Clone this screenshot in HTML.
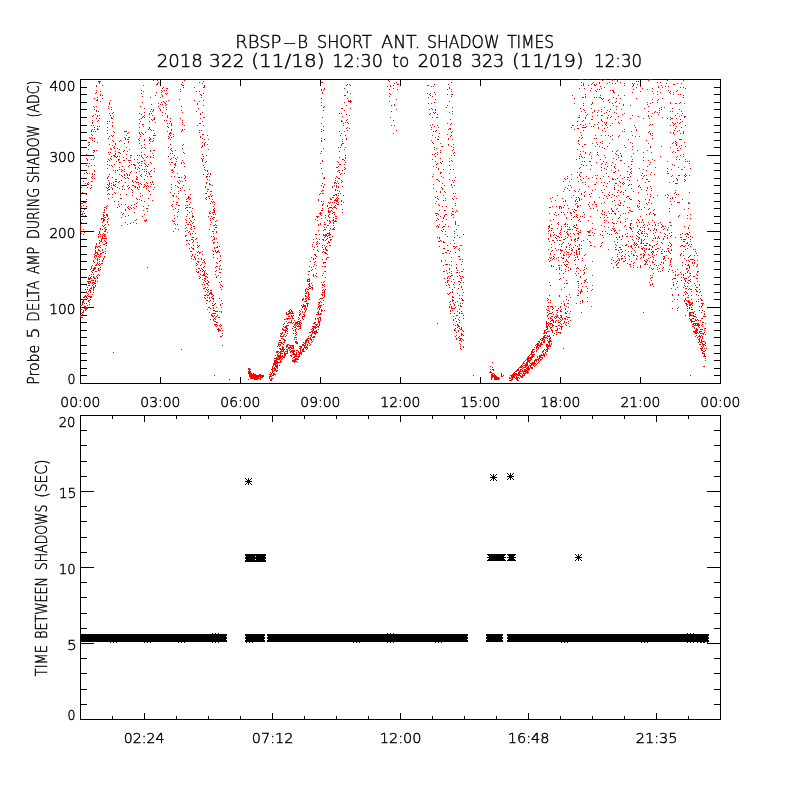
<!DOCTYPE html>
<html><head><meta charset="utf-8"><title>RBSP-B SHORT ANT. SHADOW TIMES</title>
<style>html,body{margin:0;padding:0;background:#fff;}svg{display:block;}
text{font-family:'DejaVu Sans', 'Liberation Sans', sans-serif;font-weight:200;fill:#000;stroke:#000;stroke-width:0.45px;}</style></head>
<body><svg width="800" height="800" viewBox="0 0 800 800">
<rect x="0" y="0" width="800" height="800" fill="#fff"/>
<g shape-rendering="crispEdges">
<rect x="80" y="79" width="641" height="1" fill="#000"/>
<rect x="80" y="383" width="641" height="1" fill="#000"/>
<rect x="80" y="79" width="1" height="305" fill="#000"/>
<rect x="720" y="79" width="1" height="305" fill="#000"/>
<rect x="81" y="375" width="6" height="1" fill="#000"/>
<rect x="714" y="375" width="6" height="1" fill="#000"/>
<rect x="81" y="368" width="6" height="1" fill="#000"/>
<rect x="714" y="368" width="6" height="1" fill="#000"/>
<rect x="81" y="360" width="6" height="1" fill="#000"/>
<rect x="714" y="360" width="6" height="1" fill="#000"/>
<rect x="81" y="353" width="6" height="1" fill="#000"/>
<rect x="714" y="353" width="6" height="1" fill="#000"/>
<rect x="81" y="345" width="6" height="1" fill="#000"/>
<rect x="714" y="345" width="6" height="1" fill="#000"/>
<rect x="81" y="337" width="6" height="1" fill="#000"/>
<rect x="714" y="337" width="6" height="1" fill="#000"/>
<rect x="81" y="330" width="6" height="1" fill="#000"/>
<rect x="714" y="330" width="6" height="1" fill="#000"/>
<rect x="81" y="322" width="6" height="1" fill="#000"/>
<rect x="714" y="322" width="6" height="1" fill="#000"/>
<rect x="81" y="315" width="6" height="1" fill="#000"/>
<rect x="714" y="315" width="6" height="1" fill="#000"/>
<rect x="81" y="307" width="13" height="1" fill="#000"/>
<rect x="707" y="307" width="13" height="1" fill="#000"/>
<rect x="81" y="299" width="6" height="1" fill="#000"/>
<rect x="714" y="299" width="6" height="1" fill="#000"/>
<rect x="81" y="292" width="6" height="1" fill="#000"/>
<rect x="714" y="292" width="6" height="1" fill="#000"/>
<rect x="81" y="284" width="6" height="1" fill="#000"/>
<rect x="714" y="284" width="6" height="1" fill="#000"/>
<rect x="81" y="277" width="6" height="1" fill="#000"/>
<rect x="714" y="277" width="6" height="1" fill="#000"/>
<rect x="81" y="269" width="6" height="1" fill="#000"/>
<rect x="714" y="269" width="6" height="1" fill="#000"/>
<rect x="81" y="261" width="6" height="1" fill="#000"/>
<rect x="714" y="261" width="6" height="1" fill="#000"/>
<rect x="81" y="254" width="6" height="1" fill="#000"/>
<rect x="714" y="254" width="6" height="1" fill="#000"/>
<rect x="81" y="246" width="6" height="1" fill="#000"/>
<rect x="714" y="246" width="6" height="1" fill="#000"/>
<rect x="81" y="239" width="6" height="1" fill="#000"/>
<rect x="714" y="239" width="6" height="1" fill="#000"/>
<rect x="81" y="231" width="13" height="1" fill="#000"/>
<rect x="707" y="231" width="13" height="1" fill="#000"/>
<rect x="81" y="223" width="6" height="1" fill="#000"/>
<rect x="714" y="223" width="6" height="1" fill="#000"/>
<rect x="81" y="216" width="6" height="1" fill="#000"/>
<rect x="714" y="216" width="6" height="1" fill="#000"/>
<rect x="81" y="208" width="6" height="1" fill="#000"/>
<rect x="714" y="208" width="6" height="1" fill="#000"/>
<rect x="81" y="201" width="6" height="1" fill="#000"/>
<rect x="714" y="201" width="6" height="1" fill="#000"/>
<rect x="81" y="193" width="6" height="1" fill="#000"/>
<rect x="714" y="193" width="6" height="1" fill="#000"/>
<rect x="81" y="185" width="6" height="1" fill="#000"/>
<rect x="714" y="185" width="6" height="1" fill="#000"/>
<rect x="81" y="178" width="6" height="1" fill="#000"/>
<rect x="714" y="178" width="6" height="1" fill="#000"/>
<rect x="81" y="170" width="6" height="1" fill="#000"/>
<rect x="714" y="170" width="6" height="1" fill="#000"/>
<rect x="81" y="163" width="6" height="1" fill="#000"/>
<rect x="714" y="163" width="6" height="1" fill="#000"/>
<rect x="81" y="155" width="13" height="1" fill="#000"/>
<rect x="707" y="155" width="13" height="1" fill="#000"/>
<rect x="81" y="147" width="6" height="1" fill="#000"/>
<rect x="714" y="147" width="6" height="1" fill="#000"/>
<rect x="81" y="140" width="6" height="1" fill="#000"/>
<rect x="714" y="140" width="6" height="1" fill="#000"/>
<rect x="81" y="132" width="6" height="1" fill="#000"/>
<rect x="714" y="132" width="6" height="1" fill="#000"/>
<rect x="81" y="125" width="6" height="1" fill="#000"/>
<rect x="714" y="125" width="6" height="1" fill="#000"/>
<rect x="81" y="117" width="6" height="1" fill="#000"/>
<rect x="714" y="117" width="6" height="1" fill="#000"/>
<rect x="81" y="109" width="6" height="1" fill="#000"/>
<rect x="714" y="109" width="6" height="1" fill="#000"/>
<rect x="81" y="102" width="6" height="1" fill="#000"/>
<rect x="714" y="102" width="6" height="1" fill="#000"/>
<rect x="81" y="94" width="6" height="1" fill="#000"/>
<rect x="714" y="94" width="6" height="1" fill="#000"/>
<rect x="81" y="87" width="6" height="1" fill="#000"/>
<rect x="714" y="87" width="6" height="1" fill="#000"/>
<rect x="160" y="377" width="1" height="6" fill="#000"/>
<rect x="160" y="80" width="1" height="6" fill="#000"/>
<rect x="240" y="377" width="1" height="6" fill="#000"/>
<rect x="240" y="80" width="1" height="6" fill="#000"/>
<rect x="320" y="377" width="1" height="6" fill="#000"/>
<rect x="320" y="80" width="1" height="6" fill="#000"/>
<rect x="400" y="377" width="1" height="6" fill="#000"/>
<rect x="400" y="80" width="1" height="6" fill="#000"/>
<rect x="480" y="377" width="1" height="6" fill="#000"/>
<rect x="480" y="80" width="1" height="6" fill="#000"/>
<rect x="560" y="377" width="1" height="6" fill="#000"/>
<rect x="560" y="80" width="1" height="6" fill="#000"/>
<rect x="640" y="377" width="1" height="6" fill="#000"/>
<rect x="640" y="80" width="1" height="6" fill="#000"/>
<rect x="80" y="415" width="641" height="1" fill="#000"/>
<rect x="80" y="719" width="641" height="1" fill="#000"/>
<rect x="80" y="415" width="1" height="305" fill="#000"/>
<rect x="720" y="415" width="1" height="305" fill="#000"/>
<rect x="81" y="704" width="6" height="1" fill="#000"/>
<rect x="714" y="704" width="6" height="1" fill="#000"/>
<rect x="81" y="689" width="6" height="1" fill="#000"/>
<rect x="714" y="689" width="6" height="1" fill="#000"/>
<rect x="81" y="673" width="6" height="1" fill="#000"/>
<rect x="714" y="673" width="6" height="1" fill="#000"/>
<rect x="81" y="658" width="6" height="1" fill="#000"/>
<rect x="714" y="658" width="6" height="1" fill="#000"/>
<rect x="81" y="643" width="13" height="1" fill="#000"/>
<rect x="707" y="643" width="13" height="1" fill="#000"/>
<rect x="81" y="628" width="6" height="1" fill="#000"/>
<rect x="714" y="628" width="6" height="1" fill="#000"/>
<rect x="81" y="613" width="6" height="1" fill="#000"/>
<rect x="714" y="613" width="6" height="1" fill="#000"/>
<rect x="81" y="597" width="6" height="1" fill="#000"/>
<rect x="714" y="597" width="6" height="1" fill="#000"/>
<rect x="81" y="582" width="6" height="1" fill="#000"/>
<rect x="714" y="582" width="6" height="1" fill="#000"/>
<rect x="81" y="567" width="13" height="1" fill="#000"/>
<rect x="707" y="567" width="13" height="1" fill="#000"/>
<rect x="81" y="552" width="6" height="1" fill="#000"/>
<rect x="714" y="552" width="6" height="1" fill="#000"/>
<rect x="81" y="537" width="6" height="1" fill="#000"/>
<rect x="714" y="537" width="6" height="1" fill="#000"/>
<rect x="81" y="521" width="6" height="1" fill="#000"/>
<rect x="714" y="521" width="6" height="1" fill="#000"/>
<rect x="81" y="506" width="6" height="1" fill="#000"/>
<rect x="714" y="506" width="6" height="1" fill="#000"/>
<rect x="81" y="491" width="13" height="1" fill="#000"/>
<rect x="707" y="491" width="13" height="1" fill="#000"/>
<rect x="81" y="476" width="6" height="1" fill="#000"/>
<rect x="714" y="476" width="6" height="1" fill="#000"/>
<rect x="81" y="461" width="6" height="1" fill="#000"/>
<rect x="714" y="461" width="6" height="1" fill="#000"/>
<rect x="81" y="445" width="6" height="1" fill="#000"/>
<rect x="714" y="445" width="6" height="1" fill="#000"/>
<rect x="81" y="430" width="6" height="1" fill="#000"/>
<rect x="714" y="430" width="6" height="1" fill="#000"/>
<rect x="112" y="716" width="1" height="3" fill="#000"/>
<rect x="112" y="416" width="1" height="3" fill="#000"/>
<rect x="144" y="713" width="1" height="6" fill="#000"/>
<rect x="144" y="416" width="1" height="6" fill="#000"/>
<rect x="176" y="716" width="1" height="3" fill="#000"/>
<rect x="176" y="416" width="1" height="3" fill="#000"/>
<rect x="208" y="716" width="1" height="3" fill="#000"/>
<rect x="208" y="416" width="1" height="3" fill="#000"/>
<rect x="240" y="716" width="1" height="3" fill="#000"/>
<rect x="240" y="416" width="1" height="3" fill="#000"/>
<rect x="272" y="713" width="1" height="6" fill="#000"/>
<rect x="272" y="416" width="1" height="6" fill="#000"/>
<rect x="304" y="716" width="1" height="3" fill="#000"/>
<rect x="304" y="416" width="1" height="3" fill="#000"/>
<rect x="336" y="716" width="1" height="3" fill="#000"/>
<rect x="336" y="416" width="1" height="3" fill="#000"/>
<rect x="368" y="716" width="1" height="3" fill="#000"/>
<rect x="368" y="416" width="1" height="3" fill="#000"/>
<rect x="400" y="713" width="1" height="6" fill="#000"/>
<rect x="400" y="416" width="1" height="6" fill="#000"/>
<rect x="432" y="716" width="1" height="3" fill="#000"/>
<rect x="432" y="416" width="1" height="3" fill="#000"/>
<rect x="464" y="716" width="1" height="3" fill="#000"/>
<rect x="464" y="416" width="1" height="3" fill="#000"/>
<rect x="496" y="716" width="1" height="3" fill="#000"/>
<rect x="496" y="416" width="1" height="3" fill="#000"/>
<rect x="528" y="713" width="1" height="6" fill="#000"/>
<rect x="528" y="416" width="1" height="6" fill="#000"/>
<rect x="560" y="716" width="1" height="3" fill="#000"/>
<rect x="560" y="416" width="1" height="3" fill="#000"/>
<rect x="592" y="716" width="1" height="3" fill="#000"/>
<rect x="592" y="416" width="1" height="3" fill="#000"/>
<rect x="624" y="716" width="1" height="3" fill="#000"/>
<rect x="624" y="416" width="1" height="3" fill="#000"/>
<rect x="656" y="713" width="1" height="6" fill="#000"/>
<rect x="656" y="416" width="1" height="6" fill="#000"/>
<rect x="688" y="716" width="1" height="3" fill="#000"/>
<rect x="688" y="416" width="1" height="3" fill="#000"/>
<path fill="#ff0000" d="M580 79h1v1h-1zM582 79h1v1h-1zM587 79h1v1h-1zM600 79h1v1h-1zM605 79h1v1h-1zM611 79h1v1h-1zM617 79h1v1h-1zM649 79h1v1h-1zM651 79h1v1h-1zM670 79h1v1h-1zM153 80h1v1h-1zM157 80h1v1h-1zM184 80h1v1h-1zM388 80h1v1h-1zM602 80h1v1h-1zM612 80h1v1h-1zM617 80h1v1h-1zM648 80h1v1h-1zM667 80h1v1h-1zM683 80h1v1h-1zM98 81h3v1h-3zM203 81h1v1h-1zM389 81h1v1h-1zM617 81h1v1h-1zM636 81h1v1h-1zM638 81h1v1h-1zM99 82h1v1h-1zM158 82h1v1h-1zM182 82h1v1h-1zM199 82h1v1h-1zM321 82h2v1h-2zM396 82h1v1h-1zM451 82h1v1h-1zM581 82h1v1h-1zM593 82h1v1h-1zM599 82h1v1h-1zM609 82h1v1h-1zM620 82h1v1h-1zM657 82h1v1h-1zM660 82h1v1h-1zM99 83h1v1h-1zM157 83h1v1h-1zM202 83h1v1h-1zM394 83h1v1h-1zM583 83h1v1h-1zM592 83h1v1h-1zM599 83h1v1h-1zM607 83h1v1h-1zM612 83h1v1h-1zM615 83h1v1h-1zM624 83h1v1h-1zM632 83h1v1h-1zM634 83h1v1h-1zM666 83h1v1h-1zM677 83h1v1h-1zM681 83h1v1h-1zM156 84h2v1h-2zM181 84h1v1h-1zM347 84h1v1h-1zM349 84h1v1h-1zM397 84h2v1h-2zM434 84h1v1h-1zM448 84h1v1h-1zM583 84h1v1h-1zM591 84h1v1h-1zM594 84h1v1h-1zM596 84h1v1h-1zM633 84h1v1h-1zM637 84h1v1h-1zM673 84h2v1h-2zM96 85h1v1h-1zM102 85h1v1h-1zM143 85h1v1h-1zM182 85h2v1h-2zM204 85h1v1h-1zM346 85h1v1h-1zM350 85h1v1h-1zM390 85h1v1h-1zM393 85h1v1h-1zM427 85h2v1h-2zM581 85h1v1h-1zM583 85h1v1h-1zM588 85h1v1h-1zM594 85h2v1h-2zM624 85h1v1h-1zM633 85h1v1h-1zM661 85h1v1h-1zM96 86h1v1h-1zM204 86h1v1h-1zM387 86h1v1h-1zM390 86h1v1h-1zM431 86h1v1h-1zM433 86h1v1h-1zM600 86h1v1h-1zM632 86h1v1h-1zM640 86h1v1h-1zM658 86h1v1h-1zM665 86h1v1h-1zM668 86h1v1h-1zM163 87h1v1h-1zM183 87h1v1h-1zM194 87h1v1h-1zM203 87h2v1h-2zM449 87h1v1h-1zM604 87h1v1h-1zM636 87h1v1h-1zM658 87h1v1h-1zM662 87h1v1h-1zM680 87h1v1h-1zM683 87h1v1h-1zM162 88h1v1h-1zM166 88h2v1h-2zM324 88h1v1h-1zM344 88h1v1h-1zM393 88h1v1h-1zM449 88h1v1h-1zM579 88h1v1h-1zM584 88h1v1h-1zM591 88h1v1h-1zM601 88h1v1h-1zM642 88h1v1h-1zM652 88h1v1h-1zM685 88h1v1h-1zM180 89h1v1h-1zM321 89h1v1h-1zM324 89h1v1h-1zM389 89h1v1h-1zM397 89h1v1h-1zM447 89h1v1h-1zM451 89h1v1h-1zM597 89h1v1h-1zM599 89h1v1h-1zM633 89h1v1h-1zM647 89h1v1h-1zM96 90h1v1h-1zM141 90h1v1h-1zM161 90h1v1h-1zM164 90h1v1h-1zM166 90h1v1h-1zM321 90h1v1h-1zM323 90h1v1h-1zM590 90h1v1h-1zM595 90h1v1h-1zM610 90h1v1h-1zM612 90h2v1h-2zM668 90h1v1h-1zM677 90h1v1h-1zM100 91h1v1h-1zM143 91h1v1h-1zM162 91h1v1h-1zM180 91h1v1h-1zM196 91h1v1h-1zM199 91h1v1h-1zM347 91h1v1h-1zM451 91h1v1h-1zM596 91h1v1h-1zM613 91h1v1h-1zM640 91h1v1h-1zM652 91h1v1h-1zM657 91h1v1h-1zM670 91h1v1h-1zM676 91h1v1h-1zM96 92h1v1h-1zM156 92h1v1h-1zM161 92h1v1h-1zM322 92h1v1h-1zM347 92h1v1h-1zM434 92h1v1h-1zM613 92h2v1h-2zM632 92h1v1h-1zM660 92h1v1h-1zM669 92h1v1h-1zM673 92h1v1h-1zM95 93h1v1h-1zM141 93h1v1h-1zM165 93h1v1h-1zM167 93h1v1h-1zM203 93h1v1h-1zM322 93h1v1h-1zM350 93h1v1h-1zM389 93h1v1h-1zM427 93h1v1h-1zM430 93h1v1h-1zM653 93h1v1h-1zM670 93h1v1h-1zM100 94h1v1h-1zM161 94h1v1h-1zM166 94h1v1h-1zM200 94h1v1h-1zM390 94h1v1h-1zM429 94h1v1h-1zM435 94h1v1h-1zM447 94h1v1h-1zM451 94h2v1h-2zM585 94h1v1h-1zM657 94h1v1h-1zM673 94h1v1h-1zM678 94h1v1h-1zM680 94h1v1h-1zM100 95h1v1h-1zM102 95h1v1h-1zM155 95h1v1h-1zM162 95h1v1h-1zM201 95h1v1h-1zM344 95h2v1h-2zM430 95h1v1h-1zM572 95h1v1h-1zM600 95h1v1h-1zM618 95h1v1h-1zM624 95h1v1h-1zM683 95h1v1h-1zM142 96h1v1h-1zM162 96h1v1h-1zM389 96h1v1h-1zM432 96h1v1h-1zM451 96h1v1h-1zM585 96h1v1h-1zM97 97h1v1h-1zM150 97h1v1h-1zM160 97h1v1h-1zM201 97h1v1h-1zM428 97h1v1h-1zM582 97h2v1h-2zM585 97h1v1h-1zM594 97h1v1h-1zM596 97h1v1h-1zM599 97h2v1h-2zM613 97h1v1h-1zM683 97h1v1h-1zM94 98h1v1h-1zM102 98h1v1h-1zM321 98h1v1h-1zM347 98h1v1h-1zM574 98h1v1h-1zM601 98h1v1h-1zM603 98h1v1h-1zM616 98h1v1h-1zM620 98h1v1h-1zM636 98h1v1h-1zM662 98h1v1h-1zM97 99h1v1h-1zM179 99h1v1h-1zM396 99h1v1h-1zM435 99h1v1h-1zM602 99h1v1h-1zM609 99h1v1h-1zM652 99h1v1h-1zM658 99h1v1h-1zM96 100h2v1h-2zM110 100h1v1h-1zM168 100h1v1h-1zM194 100h1v1h-1zM203 100h1v1h-1zM348 100h1v1h-1zM350 100h1v1h-1zM608 100h1v1h-1zM657 100h1v1h-1zM100 101h1v1h-1zM163 101h1v1h-1zM166 101h1v1h-1zM199 101h1v1h-1zM348 101h4v1h-4zM389 101h1v1h-1zM449 101h1v1h-1zM603 101h1v1h-1zM616 101h1v1h-1zM109 102h1v1h-1zM142 102h1v1h-1zM161 102h1v1h-1zM164 102h1v1h-1zM321 102h1v1h-1zM344 102h1v1h-1zM350 102h1v1h-1zM434 102h1v1h-1zM592 102h1v1h-1zM609 102h1v1h-1zM615 102h1v1h-1zM647 102h1v1h-1zM652 102h1v1h-1zM657 102h1v1h-1zM670 102h1v1h-1zM680 102h1v1h-1zM109 103h1v1h-1zM158 103h1v1h-1zM165 103h1v1h-1zM197 103h1v1h-1zM428 103h1v1h-1zM431 103h1v1h-1zM574 103h1v1h-1zM583 103h1v1h-1zM592 103h1v1h-1zM612 103h1v1h-1zM619 103h1v1h-1zM650 103h1v1h-1zM670 103h1v1h-1zM675 103h2v1h-2zM679 103h1v1h-1zM684 103h1v1h-1zM109 104h1v1h-1zM151 104h1v1h-1zM160 104h1v1h-1zM162 104h1v1h-1zM166 104h1v1h-1zM197 104h1v1h-1zM394 104h1v1h-1zM591 104h1v1h-1zM623 104h1v1h-1zM647 104h1v1h-1zM165 105h1v1h-1zM203 105h1v1h-1zM321 105h1v1h-1zM346 105h1v1h-1zM391 105h1v1h-1zM394 105h1v1h-1zM447 105h1v1h-1zM583 105h1v1h-1zM613 105h1v1h-1zM623 105h1v1h-1zM630 105h1v1h-1zM93 106h1v1h-1zM96 106h1v1h-1zM108 106h1v1h-1zM140 106h1v1h-1zM158 106h1v1h-1zM181 106h1v1h-1zM324 106h1v1h-1zM616 106h1v1h-1zM648 106h1v1h-1zM94 107h1v1h-1zM111 107h1v1h-1zM163 107h1v1h-1zM166 107h1v1h-1zM323 107h1v1h-1zM446 107h1v1h-1zM452 107h1v1h-1zM604 107h1v1h-1zM661 107h1v1h-1zM664 107h1v1h-1zM108 108h1v1h-1zM144 108h1v1h-1zM159 108h1v1h-1zM198 108h1v1h-1zM341 108h2v1h-2zM350 108h1v1h-1zM431 108h1v1h-1zM580 108h1v1h-1zM591 108h1v1h-1zM644 108h1v1h-1zM659 108h1v1h-1zM672 108h1v1h-1zM94 109h1v1h-1zM111 109h1v1h-1zM151 109h1v1h-1zM153 109h1v1h-1zM160 109h1v1h-1zM166 109h1v1h-1zM396 109h1v1h-1zM429 109h1v1h-1zM432 109h1v1h-1zM435 109h1v1h-1zM583 109h1v1h-1zM601 109h1v1h-1zM610 109h1v1h-1zM616 109h1v1h-1zM621 109h1v1h-1zM661 109h1v1h-1zM679 109h1v1h-1zM96 110h1v1h-1zM153 110h1v1h-1zM160 110h1v1h-1zM181 110h1v1h-1zM323 110h1v1h-1zM344 110h1v1h-1zM435 110h1v1h-1zM584 110h1v1h-1zM594 110h1v1h-1zM598 110h1v1h-1zM607 110h1v1h-1zM659 110h1v1h-1zM96 111h1v1h-1zM98 111h1v1h-1zM150 111h1v1h-1zM152 111h1v1h-1zM196 111h1v1h-1zM391 111h1v1h-1zM452 111h1v1h-1zM581 111h1v1h-1zM594 111h1v1h-1zM601 111h1v1h-1zM609 111h1v1h-1zM648 111h1v1h-1zM655 111h1v1h-1zM670 111h1v1h-1zM672 111h1v1h-1zM681 111h1v1h-1zM113 112h1v1h-1zM144 112h1v1h-1zM162 112h1v1h-1zM182 112h1v1h-1zM202 112h1v1h-1zM433 112h1v1h-1zM435 112h1v1h-1zM449 112h1v1h-1zM585 112h1v1h-1zM592 112h1v1h-1zM597 112h1v1h-1zM606 112h1v1h-1zM614 112h1v1h-1zM654 112h1v1h-1zM657 112h1v1h-1zM659 112h1v1h-1zM109 113h1v1h-1zM112 113h1v1h-1zM139 113h1v1h-1zM149 113h1v1h-1zM151 113h1v1h-1zM165 113h1v1h-1zM200 113h1v1h-1zM339 113h1v1h-1zM341 113h1v1h-1zM430 113h1v1h-1zM434 113h1v1h-1zM452 113h1v1h-1zM604 113h1v1h-1zM616 113h1v1h-1zM624 113h1v1h-1zM652 113h1v1h-1zM677 113h1v1h-1zM682 113h1v1h-1zM95 114h1v1h-1zM141 114h1v1h-1zM149 114h1v1h-1zM200 114h1v1h-1zM346 114h1v1h-1zM429 114h1v1h-1zM437 114h1v1h-1zM587 114h1v1h-1zM622 114h1v1h-1zM658 114h1v1h-1zM93 115h1v1h-1zM97 115h1v1h-1zM99 115h1v1h-1zM110 115h1v1h-1zM144 115h1v1h-1zM152 115h1v1h-1zM162 115h1v1h-1zM167 115h1v1h-1zM349 115h1v1h-1zM579 115h1v1h-1zM586 115h1v1h-1zM597 115h1v1h-1zM601 115h2v1h-2zM608 115h1v1h-1zM632 115h1v1h-1zM648 115h1v1h-1zM675 115h1v1h-1zM681 115h1v1h-1zM92 116h1v1h-1zM97 116h1v1h-1zM113 116h1v1h-1zM143 116h1v1h-1zM167 116h1v1h-1zM342 116h1v1h-1zM592 116h1v1h-1zM611 116h1v1h-1zM618 116h1v1h-1zM638 116h1v1h-1zM648 116h1v1h-1zM651 116h1v1h-1zM679 116h1v1h-1zM684 116h2v1h-2zM111 117h1v1h-1zM142 117h1v1h-1zM144 117h1v1h-1zM149 117h1v1h-1zM154 117h1v1h-1zM167 117h1v1h-1zM203 117h2v1h-2zM322 117h1v1h-1zM390 117h1v1h-1zM432 117h1v1h-1zM436 117h2v1h-2zM578 117h2v1h-2zM585 117h1v1h-1zM607 117h1v1h-1zM610 117h1v1h-1zM662 117h1v1h-1zM670 117h1v1h-1zM684 117h1v1h-1zM96 118h1v1h-1zM99 118h1v1h-1zM111 118h2v1h-2zM141 118h1v1h-1zM154 118h1v1h-1zM170 118h1v1h-1zM180 118h1v1h-1zM200 118h1v1h-1zM585 118h1v1h-1zM607 118h1v1h-1zM630 118h1v1h-1zM643 118h1v1h-1zM649 118h1v1h-1zM667 118h1v1h-1zM671 118h2v1h-2zM676 118h1v1h-1zM139 119h1v1h-1zM151 119h1v1h-1zM153 119h2v1h-2zM347 119h1v1h-1zM450 119h1v1h-1zM591 119h2v1h-2zM601 119h1v1h-1zM615 119h1v1h-1zM670 119h1v1h-1zM680 119h1v1h-1zM92 120h1v1h-1zM98 120h1v1h-1zM152 120h1v1h-1zM164 120h1v1h-1zM166 120h1v1h-1zM182 120h1v1h-1zM341 120h1v1h-1zM346 120h1v1h-1zM393 120h1v1h-1zM583 120h1v1h-1zM601 120h1v1h-1zM621 120h1v1h-1zM97 121h1v1h-1zM107 121h1v1h-1zM109 121h1v1h-1zM140 121h1v1h-1zM149 121h1v1h-1zM170 121h1v1h-1zM202 121h1v1h-1zM341 121h2v1h-2zM577 121h1v1h-1zM582 121h1v1h-1zM602 121h1v1h-1zM682 121h1v1h-1zM92 122h1v1h-1zM112 122h1v1h-1zM155 122h1v1h-1zM182 122h1v1h-1zM345 122h1v1h-1zM347 122h1v1h-1zM598 122h1v1h-1zM604 122h1v1h-1zM606 122h1v1h-1zM618 122h1v1h-1zM672 122h1v1h-1zM677 122h1v1h-1zM680 122h1v1h-1zM92 123h1v1h-1zM107 123h1v1h-1zM139 123h1v1h-1zM167 123h1v1h-1zM169 123h1v1h-1zM171 123h1v1h-1zM199 123h2v1h-2zM321 123h1v1h-1zM343 123h1v1h-1zM348 123h1v1h-1zM447 123h1v1h-1zM451 123h1v1h-1zM589 123h1v1h-1zM606 123h1v1h-1zM612 123h1v1h-1zM619 123h1v1h-1zM673 123h1v1h-1zM675 123h1v1h-1zM679 123h1v1h-1zM142 124h2v1h-2zM171 124h1v1h-1zM182 124h1v1h-1zM432 124h1v1h-1zM450 124h1v1h-1zM580 124h1v1h-1zM585 124h1v1h-1zM594 124h1v1h-1zM597 124h1v1h-1zM605 124h1v1h-1zM650 124h1v1h-1zM652 124h1v1h-1zM674 124h1v1h-1zM91 125h1v1h-1zM93 125h1v1h-1zM112 125h1v1h-1zM171 125h1v1h-1zM184 125h1v1h-1zM197 125h1v1h-1zM203 125h1v1h-1zM343 125h1v1h-1zM391 125h1v1h-1zM394 125h1v1h-1zM430 125h1v1h-1zM437 125h1v1h-1zM572 125h2v1h-2zM577 125h1v1h-1zM583 125h1v1h-1zM602 125h1v1h-1zM606 125h1v1h-1zM610 125h1v1h-1zM634 125h1v1h-1zM649 125h1v1h-1zM670 125h1v1h-1zM673 125h1v1h-1zM685 125h1v1h-1zM97 126h1v1h-1zM99 126h1v1h-1zM112 126h1v1h-1zM143 126h1v1h-1zM167 126h1v1h-1zM323 126h1v1h-1zM434 126h1v1h-1zM586 126h1v1h-1zM591 126h1v1h-1zM593 126h1v1h-1zM676 126h1v1h-1zM94 127h1v1h-1zM107 127h1v1h-1zM139 127h1v1h-1zM149 127h1v1h-1zM168 127h1v1h-1zM347 127h1v1h-1zM431 127h1v1h-1zM438 127h1v1h-1zM571 127h1v1h-1zM582 127h4v1h-4zM598 127h1v1h-1zM607 127h1v1h-1zM635 127h1v1h-1zM681 127h1v1h-1zM97 128h1v1h-1zM149 128h1v1h-1zM346 128h1v1h-1zM349 128h1v1h-1zM449 128h2v1h-2zM577 128h2v1h-2zM598 128h1v1h-1zM604 128h1v1h-1zM675 128h1v1h-1zM92 129h1v1h-1zM94 129h1v1h-1zM97 129h2v1h-2zM148 129h1v1h-1zM150 129h1v1h-1zM171 129h1v1h-1zM182 129h1v1h-1zM184 129h1v1h-1zM321 129h1v1h-1zM431 129h1v1h-1zM448 129h1v1h-1zM450 129h1v1h-1zM574 129h1v1h-1zM624 129h1v1h-1zM636 129h1v1h-1zM91 130h1v1h-1zM107 130h1v1h-1zM151 130h1v1h-1zM153 130h1v1h-1zM171 130h1v1h-1zM182 130h1v1h-1zM199 130h1v1h-1zM201 130h1v1h-1zM323 130h1v1h-1zM347 130h1v1h-1zM396 130h1v1h-1zM436 130h1v1h-1zM583 130h1v1h-1zM602 130h1v1h-1zM636 130h1v1h-1zM674 130h1v1h-1zM679 130h1v1h-1zM91 131h1v1h-1zM93 131h1v1h-1zM95 131h1v1h-1zM113 131h1v1h-1zM124 131h3v1h-3zM167 131h1v1h-1zM181 131h1v1h-1zM321 131h1v1h-1zM339 131h1v1h-1zM344 131h1v1h-1zM433 131h1v1h-1zM435 131h1v1h-1zM452 131h1v1h-1zM605 131h1v1h-1zM622 131h1v1h-1zM624 131h1v1h-1zM631 131h1v1h-1zM649 131h1v1h-1zM677 131h1v1h-1zM683 131h1v1h-1zM114 132h1v1h-1zM128 132h1v1h-1zM139 132h1v1h-1zM141 132h1v1h-1zM145 132h1v1h-1zM170 132h1v1h-1zM199 132h1v1h-1zM451 132h1v1h-1zM580 132h1v1h-1zM648 132h1v1h-1zM670 132h1v1h-1zM673 132h1v1h-1zM683 132h1v1h-1zM107 133h1v1h-1zM127 133h1v1h-1zM139 133h1v1h-1zM142 133h1v1h-1zM154 133h1v1h-1zM169 133h3v1h-3zM341 133h1v1h-1zM393 133h1v1h-1zM439 133h1v1h-1zM650 133h1v1h-1zM652 133h1v1h-1zM673 133h1v1h-1zM680 133h1v1h-1zM683 133h1v1h-1zM91 134h1v1h-1zM140 134h1v1h-1zM143 134h1v1h-1zM169 134h1v1h-1zM173 134h1v1h-1zM202 134h2v1h-2zM447 134h1v1h-1zM650 134h1v1h-1zM674 134h1v1h-1zM92 135h1v1h-1zM111 135h1v1h-1zM113 135h1v1h-1zM126 135h1v1h-1zM153 135h3v1h-3zM170 135h1v1h-1zM207 135h1v1h-1zM340 135h1v1h-1zM345 135h1v1h-1zM432 135h1v1h-1zM451 135h1v1h-1zM581 135h1v1h-1zM595 135h1v1h-1zM601 135h1v1h-1zM605 135h1v1h-1zM608 135h1v1h-1zM612 135h1v1h-1zM619 135h1v1h-1zM632 135h1v1h-1zM652 135h1v1h-1zM109 136h1v1h-1zM112 136h1v1h-1zM140 136h1v1h-1zM168 136h1v1h-1zM173 136h1v1h-1zM200 136h1v1h-1zM438 136h1v1h-1zM450 136h1v1h-1zM610 136h1v1h-1zM618 136h1v1h-1zM635 136h1v1h-1zM639 136h1v1h-1zM89 137h1v1h-1zM91 137h1v1h-1zM124 137h1v1h-1zM128 137h2v1h-2zM149 137h1v1h-1zM169 137h1v1h-1zM171 137h1v1h-1zM200 137h1v1h-1zM435 137h1v1h-1zM579 137h1v1h-1zM582 137h1v1h-1zM90 138h1v1h-1zM92 138h1v1h-1zM94 138h1v1h-1zM108 138h1v1h-1zM125 138h1v1h-1zM139 138h1v1h-1zM150 138h1v1h-1zM153 138h1v1h-1zM168 138h1v1h-1zM202 138h1v1h-1zM321 138h1v1h-1zM346 138h1v1h-1zM448 138h1v1h-1zM581 138h1v1h-1zM594 138h1v1h-1zM596 138h1v1h-1zM652 138h1v1h-1zM125 139h1v1h-1zM127 139h2v1h-2zM138 139h1v1h-1zM144 139h1v1h-1zM149 139h2v1h-2zM170 139h1v1h-1zM204 139h1v1h-1zM208 139h1v1h-1zM324 139h1v1h-1zM342 139h1v1h-1zM346 139h1v1h-1zM437 139h2v1h-2zM448 139h1v1h-1zM452 139h1v1h-1zM612 139h1v1h-1zM628 139h1v1h-1zM679 139h3v1h-3zM92 140h1v1h-1zM112 140h1v1h-1zM120 140h1v1h-1zM139 140h1v1h-1zM144 140h1v1h-1zM149 140h1v1h-1zM153 140h1v1h-1zM321 140h1v1h-1zM431 140h1v1h-1zM578 140h1v1h-1zM646 140h1v1h-1zM94 141h1v1h-1zM113 141h1v1h-1zM119 141h1v1h-1zM128 141h1v1h-1zM150 141h1v1h-1zM152 141h1v1h-1zM321 141h1v1h-1zM342 141h1v1h-1zM578 141h1v1h-1zM602 141h1v1h-1zM675 141h1v1h-1zM88 142h2v1h-2zM97 142h1v1h-1zM128 142h1v1h-1zM202 142h1v1h-1zM205 142h1v1h-1zM432 142h1v1h-1zM596 142h1v1h-1zM600 142h1v1h-1zM630 142h1v1h-1zM673 142h1v1h-1zM676 142h1v1h-1zM684 142h1v1h-1zM115 143h1v1h-1zM124 143h1v1h-1zM139 143h1v1h-1zM149 143h1v1h-1zM204 143h1v1h-1zM342 143h2v1h-2zM433 143h1v1h-1zM440 143h1v1h-1zM578 143h1v1h-1zM592 143h1v1h-1zM602 143h1v1h-1zM609 143h1v1h-1zM632 143h1v1h-1zM648 143h1v1h-1zM672 143h1v1h-1zM675 143h1v1h-1zM89 144h1v1h-1zM109 144h1v1h-1zM115 144h1v1h-1zM144 144h1v1h-1zM170 144h1v1h-1zM183 144h1v1h-1zM204 144h1v1h-1zM207 144h1v1h-1zM341 144h1v1h-1zM448 144h1v1h-1zM453 144h1v1h-1zM579 144h1v1h-1zM584 144h2v1h-2zM597 144h1v1h-1zM676 144h1v1h-1zM88 145h1v1h-1zM112 145h1v1h-1zM141 145h1v1h-1zM182 145h1v1h-1zM202 145h1v1h-1zM204 145h1v1h-1zM341 145h1v1h-1zM448 145h1v1h-1zM624 145h1v1h-1zM676 145h1v1h-1zM681 145h1v1h-1zM114 146h1v1h-1zM202 146h1v1h-1zM441 146h2v1h-2zM451 146h1v1h-1zM582 146h1v1h-1zM595 146h1v1h-1zM599 146h1v1h-1zM607 146h1v1h-1zM632 146h1v1h-1zM650 146h1v1h-1zM661 146h1v1h-1zM679 146h1v1h-1zM685 146h1v1h-1zM113 147h1v1h-1zM126 147h1v1h-1zM142 147h1v1h-1zM144 147h1v1h-1zM168 147h1v1h-1zM201 147h1v1h-1zM338 147h1v1h-1zM340 147h1v1h-1zM345 147h1v1h-1zM434 147h1v1h-1zM453 147h1v1h-1zM602 147h1v1h-1zM625 147h1v1h-1zM650 147h1v1h-1zM670 147h1v1h-1zM110 148h1v1h-1zM114 148h1v1h-1zM117 148h1v1h-1zM141 148h1v1h-1zM145 148h1v1h-1zM171 148h1v1h-1zM182 148h1v1h-1zM323 148h1v1h-1zM436 148h1v1h-1zM604 148h1v1h-1zM677 148h1v1h-1zM680 148h1v1h-1zM88 149h1v1h-1zM111 149h1v1h-1zM119 149h1v1h-1zM129 149h1v1h-1zM170 149h1v1h-1zM208 149h1v1h-1zM344 149h1v1h-1zM434 149h1v1h-1zM453 149h1v1h-1zM577 149h1v1h-1zM632 149h1v1h-1zM93 150h2v1h-2zM96 150h1v1h-1zM124 150h1v1h-1zM150 150h1v1h-1zM153 150h2v1h-2zM171 150h1v1h-1zM175 150h1v1h-1zM440 150h1v1h-1zM452 150h1v1h-1zM617 150h1v1h-1zM637 150h1v1h-1zM647 150h1v1h-1zM677 150h2v1h-2zM94 151h1v1h-1zM115 151h1v1h-1zM123 151h1v1h-1zM127 151h1v1h-1zM150 151h1v1h-1zM172 151h1v1h-1zM321 151h1v1h-1zM339 151h1v1h-1zM580 151h1v1h-1zM583 151h1v1h-1zM612 151h1v1h-1zM616 151h1v1h-1zM673 151h1v1h-1zM93 152h1v1h-1zM108 152h1v1h-1zM110 152h1v1h-1zM118 152h2v1h-2zM141 152h1v1h-1zM183 152h1v1h-1zM437 152h1v1h-1zM440 152h1v1h-1zM454 152h1v1h-1zM585 152h1v1h-1zM590 152h1v1h-1zM597 152h1v1h-1zM643 152h1v1h-1zM651 152h1v1h-1zM672 152h1v1h-1zM675 152h1v1h-1zM115 153h1v1h-1zM120 153h1v1h-1zM152 153h1v1h-1zM170 153h1v1h-1zM172 153h1v1h-1zM184 153h1v1h-1zM320 153h1v1h-1zM435 153h1v1h-1zM453 153h1v1h-1zM585 153h1v1h-1zM615 153h1v1h-1zM620 153h1v1h-1zM633 153h1v1h-1zM86 154h1v1h-1zM109 154h1v1h-1zM115 154h1v1h-1zM126 154h1v1h-1zM144 154h1v1h-1zM202 154h1v1h-1zM432 154h1v1h-1zM434 154h1v1h-1zM437 154h1v1h-1zM580 154h1v1h-1zM589 154h1v1h-1zM597 154h1v1h-1zM616 154h1v1h-1zM683 154h1v1h-1zM113 155h2v1h-2zM130 155h2v1h-2zM137 155h1v1h-1zM139 155h1v1h-1zM141 155h1v1h-1zM153 155h1v1h-1zM174 155h1v1h-1zM206 155h1v1h-1zM345 155h1v1h-1zM451 155h1v1h-1zM454 155h1v1h-1zM598 155h1v1h-1zM604 155h1v1h-1zM618 155h1v1h-1zM621 155h1v1h-1zM680 155h1v1h-1zM111 156h1v1h-1zM114 156h2v1h-2zM117 156h1v1h-1zM119 156h1v1h-1zM141 156h1v1h-1zM147 156h1v1h-1zM150 156h1v1h-1zM168 156h1v1h-1zM203 156h1v1h-1zM435 156h1v1h-1zM579 156h1v1h-1zM581 156h1v1h-1zM591 156h1v1h-1zM621 156h1v1h-1zM631 156h1v1h-1zM660 156h1v1h-1zM677 156h1v1h-1zM683 156h1v1h-1zM94 157h1v1h-1zM116 157h1v1h-1zM123 157h1v1h-1zM130 157h1v1h-1zM142 157h1v1h-1zM146 157h1v1h-1zM150 157h1v1h-1zM153 157h1v1h-1zM173 157h1v1h-1zM177 157h1v1h-1zM339 157h1v1h-1zM345 157h1v1h-1zM582 157h1v1h-1zM584 157h1v1h-1zM605 157h1v1h-1zM618 157h1v1h-1zM643 157h1v1h-1zM676 157h1v1h-1zM86 158h1v1h-1zM110 158h1v1h-1zM126 158h1v1h-1zM143 158h1v1h-1zM171 158h1v1h-1zM175 158h1v1h-1zM201 158h1v1h-1zM203 158h1v1h-1zM345 158h1v1h-1zM440 158h1v1h-1zM449 158h1v1h-1zM579 158h1v1h-1zM591 158h1v1h-1zM613 158h1v1h-1zM87 159h1v1h-1zM91 159h1v1h-1zM93 159h1v1h-1zM108 159h1v1h-1zM111 159h1v1h-1zM118 159h2v1h-2zM134 159h1v1h-1zM137 159h1v1h-1zM170 159h1v1h-1zM176 159h1v1h-1zM202 159h1v1h-1zM342 159h2v1h-2zM432 159h1v1h-1zM576 159h1v1h-1zM600 159h1v1h-1zM616 159h1v1h-1zM632 159h1v1h-1zM652 159h1v1h-1zM676 159h1v1h-1zM679 159h1v1h-1zM685 159h1v1h-1zM87 160h1v1h-1zM109 160h1v1h-1zM118 160h1v1h-1zM123 160h2v1h-2zM128 160h3v1h-3zM144 160h1v1h-1zM182 160h1v1h-1zM202 160h1v1h-1zM322 160h1v1h-1zM344 160h1v1h-1zM451 160h1v1h-1zM620 160h2v1h-2zM643 160h1v1h-1zM648 160h1v1h-1zM654 160h1v1h-1zM107 161h1v1h-1zM116 161h1v1h-1zM141 161h2v1h-2zM176 161h1v1h-1zM202 161h1v1h-1zM206 161h1v1h-1zM322 161h1v1h-1zM337 161h1v1h-1zM435 161h1v1h-1zM442 161h1v1h-1zM449 161h1v1h-1zM452 161h1v1h-1zM582 161h1v1h-1zM584 161h1v1h-1zM589 161h2v1h-2zM603 161h1v1h-1zM631 161h2v1h-2zM667 161h1v1h-1zM685 161h1v1h-1zM687 161h1v1h-1zM689 161h1v1h-1zM119 162h2v1h-2zM129 162h1v1h-1zM137 162h1v1h-1zM139 162h1v1h-1zM150 162h1v1h-1zM169 162h1v1h-1zM171 162h2v1h-2zM181 162h1v1h-1zM183 162h1v1h-1zM205 162h1v1h-1zM338 162h1v1h-1zM345 162h1v1h-1zM440 162h1v1h-1zM596 162h1v1h-1zM606 162h1v1h-1zM612 162h1v1h-1zM650 162h1v1h-1zM86 163h2v1h-2zM89 163h1v1h-1zM138 163h1v1h-1zM141 163h1v1h-1zM144 163h1v1h-1zM151 163h1v1h-1zM175 163h1v1h-1zM181 163h1v1h-1zM184 163h1v1h-1zM320 163h1v1h-1zM437 163h1v1h-1zM441 163h1v1h-1zM602 163h1v1h-1zM624 163h1v1h-1zM689 163h1v1h-1zM107 164h1v1h-1zM114 164h1v1h-1zM131 164h1v1h-1zM133 164h2v1h-2zM145 164h1v1h-1zM148 164h1v1h-1zM170 164h1v1h-1zM174 164h2v1h-2zM339 164h2v1h-2zM344 164h1v1h-1zM436 164h1v1h-1zM581 164h1v1h-1zM601 164h1v1h-1zM605 164h1v1h-1zM615 164h1v1h-1zM631 164h1v1h-1zM649 164h1v1h-1zM672 164h1v1h-1zM86 165h1v1h-1zM91 165h1v1h-1zM94 165h1v1h-1zM109 165h1v1h-1zM111 165h1v1h-1zM129 165h1v1h-1zM134 165h2v1h-2zM139 165h1v1h-1zM141 165h1v1h-1zM146 165h1v1h-1zM175 165h1v1h-1zM203 165h1v1h-1zM449 165h1v1h-1zM583 165h1v1h-1zM586 165h1v1h-1zM591 165h1v1h-1zM611 165h1v1h-1zM674 165h1v1h-1zM88 166h1v1h-1zM112 166h1v1h-1zM122 166h1v1h-1zM128 166h1v1h-1zM145 166h1v1h-1zM147 166h1v1h-1zM184 166h1v1h-1zM338 166h1v1h-1zM433 166h1v1h-1zM607 166h1v1h-1zM614 166h1v1h-1zM628 166h1v1h-1zM647 166h1v1h-1zM119 167h1v1h-1zM135 167h1v1h-1zM138 167h1v1h-1zM174 167h1v1h-1zM204 167h1v1h-1zM336 167h2v1h-2zM344 167h1v1h-1zM436 167h1v1h-1zM580 167h1v1h-1zM601 167h1v1h-1zM614 167h1v1h-1zM655 167h1v1h-1zM678 167h1v1h-1zM684 167h1v1h-1zM107 168h1v1h-1zM135 168h1v1h-1zM139 168h1v1h-1zM154 168h1v1h-1zM321 168h1v1h-1zM345 168h1v1h-1zM438 168h1v1h-1zM579 168h1v1h-1zM604 168h1v1h-1zM615 168h1v1h-1zM631 168h1v1h-1zM639 168h1v1h-1zM667 168h1v1h-1zM690 168h1v1h-1zM119 169h1v1h-1zM121 169h1v1h-1zM124 169h1v1h-1zM137 169h1v1h-1zM142 169h1v1h-1zM144 169h1v1h-1zM146 169h1v1h-1zM172 169h1v1h-1zM204 169h1v1h-1zM344 169h1v1h-1zM438 169h1v1h-1zM443 169h1v1h-1zM450 169h1v1h-1zM453 169h1v1h-1zM590 169h1v1h-1zM606 169h1v1h-1zM630 169h1v1h-1zM643 169h1v1h-1zM671 169h1v1h-1zM681 169h2v1h-2zM94 170h1v1h-1zM113 170h1v1h-1zM115 170h1v1h-1zM117 170h1v1h-1zM122 170h1v1h-1zM151 170h1v1h-1zM171 170h2v1h-2zM205 170h1v1h-1zM207 170h1v1h-1zM338 170h2v1h-2zM342 170h1v1h-1zM601 170h1v1h-1zM611 170h1v1h-1zM618 170h1v1h-1zM646 170h1v1h-1zM94 171h1v1h-1zM121 171h1v1h-1zM124 171h1v1h-1zM131 171h1v1h-1zM139 171h1v1h-1zM144 171h1v1h-1zM146 171h1v1h-1zM150 171h1v1h-1zM154 171h1v1h-1zM173 171h1v1h-1zM207 171h1v1h-1zM337 171h1v1h-1zM615 171h1v1h-1zM627 171h1v1h-1zM631 171h1v1h-1zM667 171h1v1h-1zM86 172h1v1h-1zM115 172h1v1h-1zM130 172h1v1h-1zM136 172h1v1h-1zM148 172h1v1h-1zM172 172h1v1h-1zM339 172h1v1h-1zM440 172h2v1h-2zM577 172h1v1h-1zM580 172h2v1h-2zM613 172h2v1h-2zM630 172h1v1h-1zM651 172h1v1h-1zM84 173h1v1h-1zM87 173h1v1h-1zM89 173h1v1h-1zM92 173h1v1h-1zM126 173h1v1h-1zM146 173h1v1h-1zM149 173h1v1h-1zM177 173h1v1h-1zM208 173h1v1h-1zM210 173h1v1h-1zM322 173h1v1h-1zM341 173h1v1h-1zM344 173h1v1h-1zM440 173h1v1h-1zM449 173h1v1h-1zM606 173h1v1h-1zM631 173h1v1h-1zM642 173h1v1h-1zM667 173h2v1h-2zM92 174h1v1h-1zM94 174h1v1h-1zM109 174h1v1h-1zM119 174h1v1h-1zM124 174h1v1h-1zM127 174h1v1h-1zM129 174h1v1h-1zM141 174h1v1h-1zM149 174h1v1h-1zM203 174h1v1h-1zM207 174h1v1h-1zM210 174h1v1h-1zM340 174h1v1h-1zM433 174h1v1h-1zM571 174h1v1h-1zM579 174h1v1h-1zM629 174h1v1h-1zM650 174h1v1h-1zM654 174h1v1h-1zM685 174h1v1h-1zM121 175h1v1h-1zM124 175h1v1h-1zM127 175h1v1h-1zM129 175h1v1h-1zM140 175h1v1h-1zM145 175h1v1h-1zM184 175h1v1h-1zM579 175h1v1h-1zM595 175h1v1h-1zM597 175h1v1h-1zM620 175h1v1h-1zM641 175h1v1h-1zM644 175h1v1h-1zM646 175h1v1h-1zM672 175h1v1h-1zM678 175h2v1h-2zM684 175h1v1h-1zM686 175h1v1h-1zM689 175h1v1h-1zM92 176h1v1h-1zM108 176h1v1h-1zM122 176h1v1h-1zM136 176h1v1h-1zM141 176h1v1h-1zM147 176h1v1h-1zM150 176h2v1h-2zM171 176h1v1h-1zM174 176h1v1h-1zM185 176h1v1h-1zM206 176h2v1h-2zM209 176h1v1h-1zM336 176h1v1h-1zM432 176h1v1h-1zM441 176h1v1h-1zM567 176h1v1h-1zM580 176h1v1h-1zM586 176h1v1h-1zM603 176h1v1h-1zM608 176h1v1h-1zM630 176h1v1h-1zM643 176h1v1h-1zM671 176h1v1h-1zM685 176h1v1h-1zM91 177h1v1h-1zM107 177h1v1h-1zM112 177h1v1h-1zM124 177h1v1h-1zM127 177h1v1h-1zM137 177h1v1h-1zM178 177h2v1h-2zM181 177h1v1h-1zM185 177h1v1h-1zM206 177h1v1h-1zM324 177h1v1h-1zM337 177h1v1h-1zM443 177h1v1h-1zM455 177h1v1h-1zM577 177h1v1h-1zM592 177h1v1h-1zM624 177h1v1h-1zM627 177h2v1h-2zM92 178h1v1h-1zM94 178h1v1h-1zM107 178h1v1h-1zM125 178h1v1h-1zM128 178h1v1h-1zM136 178h1v1h-1zM184 178h1v1h-1zM323 178h2v1h-2zM335 178h1v1h-1zM338 178h2v1h-2zM564 178h1v1h-1zM567 178h1v1h-1zM583 178h1v1h-1zM588 178h1v1h-1zM596 178h1v1h-1zM600 178h1v1h-1zM612 178h1v1h-1zM617 178h1v1h-1zM622 178h1v1h-1zM642 178h1v1h-1zM676 178h1v1h-1zM115 179h2v1h-2zM136 179h2v1h-2zM144 179h1v1h-1zM207 179h1v1h-1zM436 179h2v1h-2zM449 179h1v1h-1zM565 179h1v1h-1zM571 179h1v1h-1zM580 179h1v1h-1zM612 179h2v1h-2zM615 179h1v1h-1zM627 179h1v1h-1zM646 179h2v1h-2zM677 179h1v1h-1zM684 179h1v1h-1zM108 180h1v1h-1zM121 180h1v1h-1zM132 180h1v1h-1zM179 180h1v1h-1zM185 180h1v1h-1zM209 180h1v1h-1zM335 180h1v1h-1zM341 180h1v1h-1zM438 180h1v1h-1zM452 180h1v1h-1zM454 180h1v1h-1zM581 180h1v1h-1zM629 180h1v1h-1zM637 180h1v1h-1zM677 180h1v1h-1zM685 180h1v1h-1zM83 181h1v1h-1zM91 181h2v1h-2zM115 181h2v1h-2zM119 181h1v1h-1zM132 181h1v1h-1zM135 181h1v1h-1zM152 181h1v1h-1zM177 181h1v1h-1zM180 181h1v1h-1zM182 181h1v1h-1zM337 181h1v1h-1zM342 181h1v1h-1zM439 181h1v1h-1zM563 181h1v1h-1zM569 181h1v1h-1zM578 181h1v1h-1zM609 181h1v1h-1zM619 181h1v1h-1zM648 181h2v1h-2zM673 181h1v1h-1zM684 181h1v1h-1zM88 182h1v1h-1zM109 182h1v1h-1zM113 182h1v1h-1zM118 182h1v1h-1zM125 182h1v1h-1zM133 182h1v1h-1zM136 182h3v1h-3zM146 182h1v1h-1zM150 182h1v1h-1zM152 182h1v1h-1zM178 182h1v1h-1zM206 182h1v1h-1zM334 182h2v1h-2zM341 182h1v1h-1zM453 182h1v1h-1zM582 182h1v1h-1zM585 182h1v1h-1zM596 182h1v1h-1zM601 182h1v1h-1zM604 182h1v1h-1zM620 182h1v1h-1zM623 182h1v1h-1zM645 182h1v1h-1zM669 182h1v1h-1zM85 183h1v1h-1zM87 183h1v1h-1zM109 183h1v1h-1zM111 183h1v1h-1zM140 183h1v1h-1zM147 183h1v1h-1zM179 183h1v1h-1zM206 183h1v1h-1zM209 183h1v1h-1zM322 183h1v1h-1zM334 183h1v1h-1zM336 183h1v1h-1zM338 183h1v1h-1zM442 183h1v1h-1zM607 183h1v1h-1zM615 183h2v1h-2zM622 183h1v1h-1zM624 183h1v1h-1zM675 183h3v1h-3zM87 184h2v1h-2zM107 184h1v1h-1zM109 184h1v1h-1zM113 184h1v1h-1zM115 184h1v1h-1zM138 184h1v1h-1zM141 184h1v1h-1zM144 184h1v1h-1zM151 184h1v1h-1zM153 184h1v1h-1zM171 184h1v1h-1zM209 184h2v1h-2zM324 184h1v1h-1zM433 184h1v1h-1zM451 184h1v1h-1zM585 184h1v1h-1zM594 184h2v1h-2zM623 184h1v1h-1zM629 184h1v1h-1zM631 184h1v1h-1zM91 185h1v1h-1zM108 185h1v1h-1zM111 185h1v1h-1zM113 185h2v1h-2zM123 185h1v1h-1zM128 185h1v1h-1zM132 185h2v1h-2zM145 185h1v1h-1zM147 185h1v1h-1zM175 185h1v1h-1zM183 185h1v1h-1zM212 185h1v1h-1zM321 185h1v1h-1zM334 185h1v1h-1zM336 185h1v1h-1zM444 185h1v1h-1zM451 185h1v1h-1zM454 185h1v1h-1zM568 185h1v1h-1zM570 185h1v1h-1zM603 185h1v1h-1zM614 185h1v1h-1zM618 185h1v1h-1zM628 185h1v1h-1zM639 185h1v1h-1zM109 186h1v1h-1zM115 186h1v1h-1zM122 186h1v1h-1zM127 186h1v1h-1zM134 186h2v1h-2zM139 186h1v1h-1zM144 186h1v1h-1zM146 186h1v1h-1zM148 186h1v1h-1zM150 186h1v1h-1zM177 186h1v1h-1zM205 186h1v1h-1zM323 186h1v1h-1zM332 186h1v1h-1zM336 186h1v1h-1zM338 186h1v1h-1zM342 186h1v1h-1zM588 186h1v1h-1zM606 186h1v1h-1zM620 186h1v1h-1zM638 186h1v1h-1zM650 186h1v1h-1zM81 187h1v1h-1zM87 187h1v1h-1zM91 187h1v1h-1zM106 187h1v1h-1zM108 187h1v1h-1zM111 187h1v1h-1zM117 187h1v1h-1zM129 187h1v1h-1zM135 187h1v1h-1zM137 187h1v1h-1zM139 187h1v1h-1zM143 187h1v1h-1zM154 187h1v1h-1zM171 187h1v1h-1zM178 187h1v1h-1zM182 187h1v1h-1zM205 187h1v1h-1zM323 187h1v1h-1zM332 187h1v1h-1zM336 187h1v1h-1zM338 187h1v1h-1zM441 187h1v1h-1zM452 187h1v1h-1zM565 187h1v1h-1zM571 187h1v1h-1zM614 187h1v1h-1zM640 187h1v1h-1zM647 187h1v1h-1zM90 188h1v1h-1zM107 188h1v1h-1zM112 188h1v1h-1zM119 188h1v1h-1zM128 188h1v1h-1zM137 188h1v1h-1zM146 188h1v1h-1zM180 188h1v1h-1zM433 188h1v1h-1zM442 188h1v1h-1zM567 188h1v1h-1zM614 188h1v1h-1zM631 188h1v1h-1zM647 188h1v1h-1zM651 188h1v1h-1zM108 189h2v1h-2zM112 189h1v1h-1zM122 189h1v1h-1zM124 189h1v1h-1zM131 189h1v1h-1zM138 189h1v1h-1zM153 189h1v1h-1zM171 189h1v1h-1zM189 189h1v1h-1zM207 189h2v1h-2zM335 189h1v1h-1zM442 189h1v1h-1zM564 189h1v1h-1zM579 189h1v1h-1zM595 189h1v1h-1zM604 189h1v1h-1zM614 189h1v1h-1zM641 189h1v1h-1zM107 190h1v1h-1zM132 190h1v1h-1zM148 190h1v1h-1zM180 190h1v1h-1zM184 190h1v1h-1zM322 190h2v1h-2zM335 190h1v1h-1zM337 190h1v1h-1zM569 190h1v1h-1zM574 190h1v1h-1zM592 190h1v1h-1zM601 190h1v1h-1zM618 190h1v1h-1zM625 190h1v1h-1zM646 190h1v1h-1zM651 190h1v1h-1zM675 190h1v1h-1zM149 191h1v1h-1zM178 191h1v1h-1zM207 191h1v1h-1zM210 191h2v1h-2zM321 191h1v1h-1zM339 191h1v1h-1zM436 191h1v1h-1zM440 191h1v1h-1zM444 191h1v1h-1zM563 191h1v1h-1zM575 191h1v1h-1zM578 191h1v1h-1zM585 191h1v1h-1zM621 191h1v1h-1zM633 191h1v1h-1zM82 192h1v1h-1zM114 192h1v1h-1zM132 192h1v1h-1zM170 192h1v1h-1zM440 192h1v1h-1zM445 192h1v1h-1zM584 192h1v1h-1zM602 192h1v1h-1zM609 192h1v1h-1zM617 192h1v1h-1zM620 192h1v1h-1zM623 192h1v1h-1zM638 192h1v1h-1zM675 192h1v1h-1zM689 192h1v1h-1zM108 193h1v1h-1zM115 193h1v1h-1zM140 193h1v1h-1zM174 193h1v1h-1zM178 193h1v1h-1zM205 193h2v1h-2zM320 193h1v1h-1zM322 193h2v1h-2zM338 193h1v1h-1zM340 193h1v1h-1zM453 193h1v1h-1zM455 193h1v1h-1zM581 193h1v1h-1zM591 193h1v1h-1zM674 193h1v1h-1zM86 194h1v1h-1zM107 194h1v1h-1zM109 194h1v1h-1zM112 194h1v1h-1zM120 194h1v1h-1zM126 194h1v1h-1zM150 194h1v1h-1zM185 194h1v1h-1zM190 194h1v1h-1zM210 194h1v1h-1zM319 194h1v1h-1zM335 194h2v1h-2zM581 194h1v1h-1zM589 194h1v1h-1zM608 194h1v1h-1zM612 194h1v1h-1zM623 194h1v1h-1zM647 194h1v1h-1zM650 194h1v1h-1zM667 194h1v1h-1zM676 194h1v1h-1zM678 194h1v1h-1zM132 195h1v1h-1zM142 195h1v1h-1zM172 195h2v1h-2zM212 195h1v1h-1zM333 195h2v1h-2zM336 195h1v1h-1zM338 195h1v1h-1zM343 195h1v1h-1zM443 195h1v1h-1zM557 195h1v1h-1zM573 195h1v1h-1zM584 195h1v1h-1zM604 195h1v1h-1zM609 195h1v1h-1zM614 195h1v1h-1zM618 195h1v1h-1zM657 195h1v1h-1zM665 195h1v1h-1zM668 195h1v1h-1zM140 196h1v1h-1zM173 196h1v1h-1zM176 196h1v1h-1zM188 196h1v1h-1zM208 196h2v1h-2zM211 196h1v1h-1zM437 196h1v1h-1zM454 196h1v1h-1zM584 196h1v1h-1zM590 196h1v1h-1zM606 196h1v1h-1zM616 196h1v1h-1zM627 196h2v1h-2zM650 196h1v1h-1zM80 197h1v1h-1zM112 197h1v1h-1zM188 197h2v1h-2zM206 197h1v1h-1zM332 197h2v1h-2zM337 197h1v1h-1zM435 197h1v1h-1zM552 197h1v1h-1zM571 197h1v1h-1zM576 197h1v1h-1zM578 197h1v1h-1zM599 197h1v1h-1zM611 197h1v1h-1zM626 197h1v1h-1zM653 197h1v1h-1zM667 197h1v1h-1zM672 197h1v1h-1zM675 197h1v1h-1zM108 198h1v1h-1zM120 198h2v1h-2zM136 198h1v1h-1zM148 198h1v1h-1zM178 198h1v1h-1zM187 198h2v1h-2zM190 198h1v1h-1zM205 198h1v1h-1zM209 198h1v1h-1zM330 198h1v1h-1zM336 198h1v1h-1zM338 198h1v1h-1zM437 198h1v1h-1zM445 198h1v1h-1zM452 198h1v1h-1zM456 198h1v1h-1zM550 198h1v1h-1zM562 198h1v1h-1zM579 198h1v1h-1zM603 198h1v1h-1zM607 198h1v1h-1zM629 198h1v1h-1zM670 198h1v1h-1zM672 198h1v1h-1zM86 199h1v1h-1zM137 199h1v1h-1zM139 199h1v1h-1zM186 199h1v1h-1zM189 199h1v1h-1zM206 199h1v1h-1zM212 199h1v1h-1zM318 199h1v1h-1zM330 199h2v1h-2zM335 199h1v1h-1zM337 199h1v1h-1zM438 199h1v1h-1zM453 199h1v1h-1zM576 199h1v1h-1zM579 199h1v1h-1zM581 199h1v1h-1zM630 199h2v1h-2zM645 199h1v1h-1zM649 199h1v1h-1zM682 199h1v1h-1zM141 200h1v1h-1zM152 200h1v1h-1zM318 200h1v1h-1zM334 200h4v1h-4zM341 200h1v1h-1zM443 200h1v1h-1zM445 200h1v1h-1zM555 200h1v1h-1zM565 200h1v1h-1zM575 200h1v1h-1zM579 200h1v1h-1zM614 200h1v1h-1zM619 200h1v1h-1zM638 200h1v1h-1zM649 200h1v1h-1zM85 201h1v1h-1zM114 201h1v1h-1zM118 201h1v1h-1zM144 201h1v1h-1zM173 201h1v1h-1zM186 201h2v1h-2zM211 201h1v1h-1zM213 201h1v1h-1zM321 201h1v1h-1zM323 201h1v1h-1zM336 201h2v1h-2zM341 201h1v1h-1zM436 201h1v1h-1zM551 201h1v1h-1zM563 201h1v1h-1zM565 201h1v1h-1zM575 201h1v1h-1zM577 201h1v1h-1zM594 201h1v1h-1zM612 201h1v1h-1zM624 201h1v1h-1zM639 201h1v1h-1zM670 201h1v1h-1zM674 201h1v1h-1zM83 202h3v1h-3zM137 202h1v1h-1zM176 202h2v1h-2zM190 202h1v1h-1zM212 202h1v1h-1zM214 202h1v1h-1zM328 202h1v1h-1zM330 202h1v1h-1zM332 202h1v1h-1zM334 202h1v1h-1zM338 202h1v1h-1zM343 202h1v1h-1zM589 202h1v1h-1zM594 202h1v1h-1zM604 202h1v1h-1zM620 202h1v1h-1zM648 202h1v1h-1zM677 202h3v1h-3zM688 202h1v1h-1zM81 203h2v1h-2zM136 203h1v1h-1zM210 203h1v1h-1zM323 203h1v1h-1zM329 203h1v1h-1zM336 203h1v1h-1zM435 203h1v1h-1zM455 203h1v1h-1zM576 203h1v1h-1zM601 203h1v1h-1zM620 203h1v1h-1zM639 203h1v1h-1zM646 203h1v1h-1zM651 203h1v1h-1zM688 203h2v1h-2zM118 204h1v1h-1zM121 204h1v1h-1zM125 204h1v1h-1zM134 204h1v1h-1zM172 204h1v1h-1zM176 204h1v1h-1zM189 204h1v1h-1zM214 204h1v1h-1zM322 204h1v1h-1zM337 204h2v1h-2zM341 204h1v1h-1zM438 204h1v1h-1zM575 204h1v1h-1zM588 204h1v1h-1zM592 204h1v1h-1zM595 204h2v1h-2zM618 204h1v1h-1zM647 204h1v1h-1zM671 204h1v1h-1zM83 205h1v1h-1zM107 205h1v1h-1zM131 205h1v1h-1zM148 205h1v1h-1zM171 205h1v1h-1zM178 205h2v1h-2zM185 205h1v1h-1zM187 205h1v1h-1zM322 205h1v1h-1zM327 205h1v1h-1zM331 205h1v1h-1zM335 205h1v1h-1zM439 205h1v1h-1zM455 205h1v1h-1zM564 205h1v1h-1zM567 205h1v1h-1zM577 205h1v1h-1zM580 205h1v1h-1zM615 205h1v1h-1zM619 205h2v1h-2zM623 205h1v1h-1zM637 205h1v1h-1zM80 206h2v1h-2zM86 206h1v1h-1zM106 206h1v1h-1zM119 206h1v1h-1zM128 206h1v1h-1zM136 206h1v1h-1zM143 206h1v1h-1zM172 206h1v1h-1zM213 206h1v1h-1zM327 206h1v1h-1zM334 206h1v1h-1zM442 206h1v1h-1zM446 206h1v1h-1zM552 206h1v1h-1zM556 206h1v1h-1zM559 206h2v1h-2zM577 206h2v1h-2zM589 206h1v1h-1zM596 206h1v1h-1zM637 206h1v1h-1zM639 206h1v1h-1zM104 207h2v1h-2zM117 207h1v1h-1zM127 207h1v1h-1zM130 207h1v1h-1zM133 207h1v1h-1zM186 207h2v1h-2zM189 207h2v1h-2zM329 207h3v1h-3zM333 207h3v1h-3zM549 207h2v1h-2zM559 207h1v1h-1zM561 207h1v1h-1zM563 207h1v1h-1zM577 207h1v1h-1zM627 207h1v1h-1zM629 207h1v1h-1zM638 207h1v1h-1zM644 207h1v1h-1zM106 208h1v1h-1zM128 208h1v1h-1zM131 208h1v1h-1zM134 208h1v1h-1zM146 208h2v1h-2zM175 208h1v1h-1zM185 208h1v1h-1zM192 208h1v1h-1zM214 208h1v1h-1zM322 208h1v1h-1zM328 208h1v1h-1zM332 208h1v1h-1zM336 208h1v1h-1zM452 208h1v1h-1zM559 208h1v1h-1zM561 208h1v1h-1zM568 208h1v1h-1zM590 208h1v1h-1zM593 208h1v1h-1zM611 208h1v1h-1zM617 208h1v1h-1zM649 208h1v1h-1zM669 208h1v1h-1zM688 208h1v1h-1zM84 209h1v1h-1zM104 209h1v1h-1zM125 209h1v1h-1zM129 209h1v1h-1zM173 209h1v1h-1zM178 209h1v1h-1zM213 209h1v1h-1zM342 209h1v1h-1zM572 209h1v1h-1zM574 209h1v1h-1zM611 209h1v1h-1zM616 209h1v1h-1zM639 209h1v1h-1zM641 209h1v1h-1zM648 209h1v1h-1zM654 209h1v1h-1zM684 209h1v1h-1zM104 210h1v1h-1zM125 210h1v1h-1zM143 210h1v1h-1zM187 210h1v1h-1zM213 210h2v1h-2zM321 210h2v1h-2zM328 210h1v1h-1zM331 210h1v1h-1zM439 210h1v1h-1zM444 210h2v1h-2zM456 210h1v1h-1zM575 210h2v1h-2zM597 210h1v1h-1zM602 210h1v1h-1zM612 210h1v1h-1zM629 210h2v1h-2zM653 210h1v1h-1zM81 211h1v1h-1zM83 211h1v1h-1zM147 211h1v1h-1zM178 211h1v1h-1zM191 211h1v1h-1zM210 211h1v1h-1zM214 211h1v1h-1zM328 211h3v1h-3zM332 211h1v1h-1zM452 211h2v1h-2zM457 211h1v1h-1zM573 211h1v1h-1zM602 211h1v1h-1zM608 211h1v1h-1zM612 211h2v1h-2zM618 211h1v1h-1zM631 211h2v1h-2zM669 211h1v1h-1zM103 212h2v1h-2zM121 212h1v1h-1zM134 212h1v1h-1zM177 212h1v1h-1zM189 212h1v1h-1zM209 212h1v1h-1zM212 212h3v1h-3zM320 212h1v1h-1zM328 212h2v1h-2zM333 212h2v1h-2zM342 212h1v1h-1zM455 212h1v1h-1zM555 212h1v1h-1zM561 212h1v1h-1zM563 212h1v1h-1zM567 212h1v1h-1zM570 212h1v1h-1zM574 212h1v1h-1zM583 212h1v1h-1zM604 212h1v1h-1zM628 212h1v1h-1zM650 212h1v1h-1zM82 213h1v1h-1zM84 213h1v1h-1zM123 213h1v1h-1zM192 213h1v1h-1zM209 213h2v1h-2zM319 213h3v1h-3zM332 213h1v1h-1zM435 213h3v1h-3zM451 213h1v1h-1zM549 213h1v1h-1zM570 213h2v1h-2zM601 213h1v1h-1zM609 213h1v1h-1zM611 213h1v1h-1zM614 213h2v1h-2zM623 213h1v1h-1zM625 213h1v1h-1zM649 213h1v1h-1zM653 213h1v1h-1zM81 214h2v1h-2zM103 214h1v1h-1zM106 214h2v1h-2zM122 214h1v1h-1zM144 214h1v1h-1zM187 214h1v1h-1zM213 214h1v1h-1zM215 214h1v1h-1zM320 214h1v1h-1zM329 214h1v1h-1zM334 214h1v1h-1zM438 214h1v1h-1zM445 214h2v1h-2zM452 214h2v1h-2zM554 214h1v1h-1zM558 214h1v1h-1zM564 214h1v1h-1zM576 214h1v1h-1zM584 214h1v1h-1zM602 214h1v1h-1zM604 214h1v1h-1zM615 214h1v1h-1zM646 214h1v1h-1zM649 214h1v1h-1zM654 214h2v1h-2zM690 214h1v1h-1zM85 215h1v1h-1zM103 215h2v1h-2zM106 215h2v1h-2zM128 215h1v1h-1zM174 215h1v1h-1zM192 215h1v1h-1zM321 215h1v1h-1zM325 215h1v1h-1zM328 215h1v1h-1zM436 215h1v1h-1zM444 215h1v1h-1zM451 215h1v1h-1zM556 215h1v1h-1zM571 215h1v1h-1zM577 215h1v1h-1zM606 215h1v1h-1zM620 215h1v1h-1zM654 215h1v1h-1zM679 215h1v1h-1zM687 215h1v1h-1zM103 216h1v1h-1zM107 216h1v1h-1zM125 216h1v1h-1zM142 216h1v1h-1zM177 216h1v1h-1zM186 216h1v1h-1zM192 216h2v1h-2zM208 216h1v1h-1zM211 216h1v1h-1zM316 216h3v1h-3zM328 216h1v1h-1zM335 216h2v1h-2zM440 216h1v1h-1zM444 216h1v1h-1zM574 216h1v1h-1zM576 216h1v1h-1zM580 216h1v1h-1zM582 216h1v1h-1zM590 216h1v1h-1zM640 216h1v1h-1zM678 216h1v1h-1zM104 217h2v1h-2zM121 217h1v1h-1zM192 217h1v1h-1zM213 217h2v1h-2zM317 217h1v1h-1zM325 217h1v1h-1zM329 217h1v1h-1zM333 217h1v1h-1zM443 217h1v1h-1zM453 217h1v1h-1zM566 217h1v1h-1zM573 217h1v1h-1zM577 217h1v1h-1zM584 217h1v1h-1zM600 217h1v1h-1zM604 217h1v1h-1zM607 217h1v1h-1zM619 217h1v1h-1zM101 218h3v1h-3zM108 218h1v1h-1zM174 218h1v1h-1zM189 218h1v1h-1zM210 218h1v1h-1zM212 218h1v1h-1zM321 218h1v1h-1zM335 218h2v1h-2zM437 218h1v1h-1zM443 218h1v1h-1zM566 218h1v1h-1zM618 218h1v1h-1zM627 218h1v1h-1zM687 218h1v1h-1zM690 218h1v1h-1zM82 219h1v1h-1zM101 219h1v1h-1zM103 219h2v1h-2zM107 219h1v1h-1zM136 219h1v1h-1zM146 219h1v1h-1zM185 219h1v1h-1zM194 219h1v1h-1zM213 219h1v1h-1zM315 219h1v1h-1zM333 219h1v1h-1zM438 219h1v1h-1zM446 219h1v1h-1zM553 219h1v1h-1zM571 219h1v1h-1zM579 219h1v1h-1zM612 219h1v1h-1zM625 219h1v1h-1zM637 219h1v1h-1zM642 219h1v1h-1zM103 220h2v1h-2zM135 220h1v1h-1zM144 220h3v1h-3zM172 220h1v1h-1zM186 220h1v1h-1zM190 220h1v1h-1zM210 220h1v1h-1zM216 220h1v1h-1zM317 220h1v1h-1zM327 220h1v1h-1zM329 220h1v1h-1zM332 220h2v1h-2zM335 220h1v1h-1zM436 220h1v1h-1zM550 220h1v1h-1zM578 220h1v1h-1zM588 220h1v1h-1zM604 220h1v1h-1zM606 220h1v1h-1zM631 220h1v1h-1zM638 220h1v1h-1zM642 220h1v1h-1zM652 220h1v1h-1zM103 221h1v1h-1zM107 221h1v1h-1zM145 221h1v1h-1zM173 221h2v1h-2zM191 221h1v1h-1zM215 221h1v1h-1zM329 221h2v1h-2zM334 221h3v1h-3zM442 221h1v1h-1zM455 221h1v1h-1zM580 221h1v1h-1zM617 221h1v1h-1zM620 221h1v1h-1zM625 221h1v1h-1zM81 222h1v1h-1zM102 222h1v1h-1zM107 222h1v1h-1zM125 222h1v1h-1zM133 222h1v1h-1zM186 222h1v1h-1zM189 222h1v1h-1zM193 222h1v1h-1zM211 222h1v1h-1zM324 222h1v1h-1zM330 222h1v1h-1zM333 222h1v1h-1zM455 222h1v1h-1zM558 222h1v1h-1zM604 222h1v1h-1zM608 222h1v1h-1zM612 222h1v1h-1zM620 222h1v1h-1zM636 222h1v1h-1zM639 222h1v1h-1zM641 222h1v1h-1zM643 222h1v1h-1zM648 222h1v1h-1zM654 222h1v1h-1zM660 222h1v1h-1zM669 222h2v1h-2zM84 223h1v1h-1zM130 223h1v1h-1zM136 223h1v1h-1zM174 223h1v1h-1zM192 223h1v1h-1zM320 223h1v1h-1zM329 223h1v1h-1zM333 223h1v1h-1zM455 223h1v1h-1zM557 223h1v1h-1zM565 223h1v1h-1zM592 223h1v1h-1zM613 223h2v1h-2zM616 223h1v1h-1zM630 223h2v1h-2zM658 223h1v1h-1zM105 224h1v1h-1zM108 224h1v1h-1zM127 224h1v1h-1zM175 224h1v1h-1zM177 224h1v1h-1zM187 224h2v1h-2zM190 224h1v1h-1zM210 224h1v1h-1zM215 224h1v1h-1zM318 224h1v1h-1zM320 224h1v1h-1zM324 224h2v1h-2zM439 224h1v1h-1zM445 224h1v1h-1zM455 224h1v1h-1zM551 224h1v1h-1zM558 224h1v1h-1zM564 224h2v1h-2zM567 224h1v1h-1zM576 224h1v1h-1zM630 224h1v1h-1zM644 224h1v1h-1zM649 224h1v1h-1zM655 224h1v1h-1zM661 224h1v1h-1zM102 225h1v1h-1zM104 225h1v1h-1zM121 225h1v1h-1zM185 225h1v1h-1zM191 225h1v1h-1zM213 225h2v1h-2zM216 225h1v1h-1zM318 225h1v1h-1zM327 225h2v1h-2zM333 225h1v1h-1zM437 225h1v1h-1zM458 225h1v1h-1zM549 225h1v1h-1zM574 225h1v1h-1zM576 225h1v1h-1zM601 225h1v1h-1zM625 225h1v1h-1zM630 225h1v1h-1zM637 225h1v1h-1zM643 225h1v1h-1zM647 225h1v1h-1zM652 225h1v1h-1zM655 225h1v1h-1zM658 225h1v1h-1zM662 225h1v1h-1zM670 225h2v1h-2zM689 225h1v1h-1zM80 226h1v1h-1zM103 226h1v1h-1zM193 226h2v1h-2zM436 226h1v1h-1zM438 226h1v1h-1zM443 226h2v1h-2zM448 226h1v1h-1zM548 226h2v1h-2zM561 226h1v1h-1zM565 226h1v1h-1zM567 226h1v1h-1zM573 226h1v1h-1zM604 226h1v1h-1zM613 226h1v1h-1zM624 226h1v1h-1zM637 226h1v1h-1zM662 226h2v1h-2zM665 226h1v1h-1zM684 226h1v1h-1zM105 227h1v1h-1zM186 227h1v1h-1zM191 227h1v1h-1zM215 227h2v1h-2zM324 227h1v1h-1zM326 227h1v1h-1zM334 227h1v1h-1zM438 227h1v1h-1zM442 227h1v1h-1zM549 227h1v1h-1zM569 227h1v1h-1zM574 227h2v1h-2zM608 227h1v1h-1zM629 227h2v1h-2zM633 227h1v1h-1zM640 227h1v1h-1zM642 227h1v1h-1zM644 227h1v1h-1zM661 227h1v1h-1zM668 227h1v1h-1zM688 227h1v1h-1zM80 228h1v1h-1zM100 228h1v1h-1zM104 228h1v1h-1zM175 228h1v1h-1zM185 228h1v1h-1zM190 228h1v1h-1zM194 228h1v1h-1zM330 228h1v1h-1zM333 228h1v1h-1zM548 228h1v1h-1zM551 228h2v1h-2zM557 228h1v1h-1zM561 228h1v1h-1zM576 228h2v1h-2zM592 228h1v1h-1zM612 228h1v1h-1zM614 228h1v1h-1zM630 228h2v1h-2zM648 228h1v1h-1zM654 228h1v1h-1zM664 228h1v1h-1zM688 228h1v1h-1zM83 229h1v1h-1zM100 229h1v1h-1zM102 229h1v1h-1zM105 229h2v1h-2zM178 229h1v1h-1zM191 229h1v1h-1zM209 229h1v1h-1zM214 229h1v1h-1zM324 229h2v1h-2zM332 229h3v1h-3zM443 229h1v1h-1zM456 229h1v1h-1zM561 229h1v1h-1zM567 229h4v1h-4zM572 229h1v1h-1zM595 229h1v1h-1zM613 229h1v1h-1zM626 229h1v1h-1zM631 229h1v1h-1zM639 229h1v1h-1zM644 229h1v1h-1zM648 229h1v1h-1zM654 229h1v1h-1zM656 229h1v1h-1zM663 229h1v1h-1zM667 229h1v1h-1zM80 230h1v1h-1zM105 230h1v1h-1zM187 230h1v1h-1zM318 230h1v1h-1zM323 230h1v1h-1zM329 230h1v1h-1zM441 230h1v1h-1zM549 230h1v1h-1zM551 230h1v1h-1zM560 230h1v1h-1zM576 230h1v1h-1zM580 230h1v1h-1zM590 230h1v1h-1zM611 230h1v1h-1zM614 230h2v1h-2zM619 230h1v1h-1zM640 230h1v1h-1zM650 230h1v1h-1zM653 230h1v1h-1zM656 230h1v1h-1zM667 230h1v1h-1zM99 231h1v1h-1zM104 231h2v1h-2zM173 231h1v1h-1zM185 231h1v1h-1zM189 231h1v1h-1zM193 231h1v1h-1zM212 231h2v1h-2zM216 231h1v1h-1zM442 231h1v1h-1zM445 231h1v1h-1zM454 231h1v1h-1zM548 231h1v1h-1zM564 231h1v1h-1zM567 231h1v1h-1zM578 231h1v1h-1zM587 231h3v1h-3zM602 231h1v1h-1zM605 231h1v1h-1zM614 231h1v1h-1zM632 231h1v1h-1zM638 231h1v1h-1zM642 231h1v1h-1zM644 231h1v1h-1zM84 232h1v1h-1zM99 232h1v1h-1zM107 232h1v1h-1zM188 232h1v1h-1zM216 232h1v1h-1zM329 232h1v1h-1zM553 232h1v1h-1zM560 232h1v1h-1zM566 232h1v1h-1zM579 232h2v1h-2zM588 232h2v1h-2zM592 232h1v1h-1zM616 232h1v1h-1zM637 232h1v1h-1zM641 232h1v1h-1zM655 232h1v1h-1zM660 232h1v1h-1zM671 232h1v1h-1zM689 232h1v1h-1zM81 233h1v1h-1zM99 233h1v1h-1zM103 233h1v1h-1zM190 233h1v1h-1zM192 233h1v1h-1zM195 233h1v1h-1zM213 233h1v1h-1zM327 233h3v1h-3zM454 233h1v1h-1zM548 233h1v1h-1zM559 233h1v1h-1zM567 233h1v1h-1zM570 233h1v1h-1zM573 233h1v1h-1zM577 233h2v1h-2zM594 233h1v1h-1zM607 233h1v1h-1zM615 233h1v1h-1zM617 233h1v1h-1zM627 233h1v1h-1zM638 233h1v1h-1zM641 233h2v1h-2zM644 233h1v1h-1zM646 233h1v1h-1zM653 233h1v1h-1zM664 233h1v1h-1zM669 233h1v1h-1zM682 233h1v1h-1zM686 233h2v1h-2zM83 234h1v1h-1zM98 234h1v1h-1zM100 234h1v1h-1zM102 234h1v1h-1zM104 234h2v1h-2zM190 234h1v1h-1zM315 234h2v1h-2zM319 234h1v1h-1zM323 234h1v1h-1zM325 234h2v1h-2zM329 234h2v1h-2zM445 234h1v1h-1zM463 234h1v1h-1zM550 234h1v1h-1zM554 234h1v1h-1zM560 234h1v1h-1zM567 234h2v1h-2zM574 234h1v1h-1zM578 234h1v1h-1zM600 234h1v1h-1zM609 234h1v1h-1zM611 234h1v1h-1zM625 234h1v1h-1zM639 234h1v1h-1zM647 234h1v1h-1zM665 234h1v1h-1zM680 234h1v1h-1zM685 234h1v1h-1zM687 234h2v1h-2zM103 235h2v1h-2zM185 235h2v1h-2zM323 235h4v1h-4zM328 235h2v1h-2zM457 235h1v1h-1zM550 235h1v1h-1zM553 235h1v1h-1zM556 235h1v1h-1zM568 235h1v1h-1zM588 235h3v1h-3zM593 235h1v1h-1zM602 235h1v1h-1zM622 235h1v1h-1zM636 235h1v1h-1zM643 235h1v1h-1zM654 235h1v1h-1zM667 235h1v1h-1zM671 235h1v1h-1zM98 236h1v1h-1zM100 236h1v1h-1zM102 236h1v1h-1zM104 236h2v1h-2zM185 236h1v1h-1zM211 236h1v1h-1zM213 236h1v1h-1zM325 236h1v1h-1zM327 236h1v1h-1zM332 236h1v1h-1zM447 236h1v1h-1zM550 236h1v1h-1zM557 236h2v1h-2zM565 236h1v1h-1zM570 236h1v1h-1zM619 236h1v1h-1zM622 236h1v1h-1zM626 236h2v1h-2zM630 236h1v1h-1zM632 236h1v1h-1zM637 236h1v1h-1zM645 236h1v1h-1zM647 236h1v1h-1zM658 236h1v1h-1zM664 236h1v1h-1zM670 236h1v1h-1zM686 236h1v1h-1zM690 236h1v1h-1zM98 237h1v1h-1zM102 237h1v1h-1zM192 237h2v1h-2zM214 237h1v1h-1zM324 237h1v1h-1zM329 237h2v1h-2zM437 237h1v1h-1zM439 237h1v1h-1zM454 237h1v1h-1zM459 237h1v1h-1zM555 237h1v1h-1zM559 237h1v1h-1zM561 237h1v1h-1zM567 237h1v1h-1zM578 237h1v1h-1zM603 237h1v1h-1zM616 237h1v1h-1zM619 237h1v1h-1zM638 237h2v1h-2zM655 237h1v1h-1zM658 237h1v1h-1zM667 237h1v1h-1zM675 237h1v1h-1zM680 237h2v1h-2zM688 237h1v1h-1zM692 237h1v1h-1zM101 238h6v1h-6zM196 238h1v1h-1zM214 238h1v1h-1zM216 238h1v1h-1zM316 238h1v1h-1zM327 238h1v1h-1zM439 238h1v1h-1zM548 238h1v1h-1zM556 238h1v1h-1zM565 238h1v1h-1zM575 238h1v1h-1zM577 238h2v1h-2zM636 238h1v1h-1zM639 238h1v1h-1zM653 238h1v1h-1zM655 238h1v1h-1zM657 238h1v1h-1zM659 238h1v1h-1zM663 238h1v1h-1zM667 238h1v1h-1zM101 239h1v1h-1zM191 239h2v1h-2zM195 239h1v1h-1zM213 239h2v1h-2zM313 239h1v1h-1zM319 239h1v1h-1zM322 239h2v1h-2zM326 239h1v1h-1zM330 239h2v1h-2zM548 239h1v1h-1zM563 239h2v1h-2zM571 239h1v1h-1zM574 239h2v1h-2zM587 239h1v1h-1zM617 239h1v1h-1zM621 239h1v1h-1zM632 239h1v1h-1zM638 239h1v1h-1zM641 239h1v1h-1zM644 239h1v1h-1zM663 239h1v1h-1zM681 239h1v1h-1zM683 239h3v1h-3zM690 239h1v1h-1zM99 240h1v1h-1zM101 240h1v1h-1zM104 240h1v1h-1zM186 240h2v1h-2zM189 240h1v1h-1zM193 240h1v1h-1zM212 240h1v1h-1zM323 240h1v1h-1zM325 240h1v1h-1zM330 240h1v1h-1zM440 240h1v1h-1zM453 240h1v1h-1zM552 240h2v1h-2zM557 240h1v1h-1zM559 240h2v1h-2zM571 240h1v1h-1zM574 240h1v1h-1zM577 240h1v1h-1zM583 240h1v1h-1zM633 240h1v1h-1zM641 240h1v1h-1zM643 240h1v1h-1zM652 240h1v1h-1zM100 241h2v1h-2zM105 241h1v1h-1zM193 241h1v1h-1zM317 241h1v1h-1zM328 241h1v1h-1zM438 241h2v1h-2zM441 241h1v1h-1zM443 241h1v1h-1zM549 241h1v1h-1zM575 241h1v1h-1zM581 241h1v1h-1zM589 241h1v1h-1zM614 241h1v1h-1zM628 241h1v1h-1zM638 241h1v1h-1zM641 241h1v1h-1zM657 241h1v1h-1zM683 241h2v1h-2zM690 241h1v1h-1zM99 242h1v1h-1zM102 242h1v1h-1zM106 242h1v1h-1zM192 242h1v1h-1zM197 242h1v1h-1zM213 242h2v1h-2zM217 242h1v1h-1zM313 242h1v1h-1zM316 242h1v1h-1zM328 242h2v1h-2zM443 242h2v1h-2zM554 242h1v1h-1zM563 242h1v1h-1zM590 242h1v1h-1zM602 242h1v1h-1zM617 242h1v1h-1zM634 242h1v1h-1zM641 242h1v1h-1zM661 242h1v1h-1zM669 242h1v1h-1zM687 242h1v1h-1zM96 243h1v1h-1zM99 243h1v1h-1zM105 243h2v1h-2zM188 243h1v1h-1zM213 243h1v1h-1zM317 243h1v1h-1zM319 243h1v1h-1zM327 243h1v1h-1zM450 243h1v1h-1zM454 243h1v1h-1zM562 243h1v1h-1zM568 243h1v1h-1zM601 243h1v1h-1zM634 243h1v1h-1zM636 243h1v1h-1zM640 243h2v1h-2zM643 243h1v1h-1zM646 243h2v1h-2zM657 243h1v1h-1zM662 243h1v1h-1zM670 243h1v1h-1zM686 243h2v1h-2zM96 244h1v1h-1zM103 244h2v1h-2zM186 244h1v1h-1zM189 244h1v1h-1zM312 244h1v1h-1zM316 244h1v1h-1zM551 244h1v1h-1zM559 244h1v1h-1zM561 244h1v1h-1zM570 244h1v1h-1zM579 244h1v1h-1zM615 244h1v1h-1zM626 244h1v1h-1zM633 244h1v1h-1zM635 244h1v1h-1zM637 244h1v1h-1zM649 244h1v1h-1zM656 244h1v1h-1zM671 244h1v1h-1zM689 244h1v1h-1zM691 244h1v1h-1zM100 245h1v1h-1zM106 245h1v1h-1zM193 245h1v1h-1zM197 245h1v1h-1zM199 245h1v1h-1zM322 245h1v1h-1zM324 245h1v1h-1zM329 245h2v1h-2zM447 245h1v1h-1zM460 245h2v1h-2zM569 245h1v1h-1zM575 245h1v1h-1zM579 245h1v1h-1zM581 245h1v1h-1zM590 245h2v1h-2zM601 245h1v1h-1zM616 245h1v1h-1zM622 245h1v1h-1zM625 245h2v1h-2zM631 245h1v1h-1zM634 245h1v1h-1zM636 245h1v1h-1zM644 245h3v1h-3zM649 245h2v1h-2zM654 245h1v1h-1zM668 245h1v1h-1zM671 245h1v1h-1zM681 245h2v1h-2zM685 245h1v1h-1zM688 245h1v1h-1zM95 246h2v1h-2zM98 246h2v1h-2zM198 246h1v1h-1zM217 246h1v1h-1zM219 246h1v1h-1zM312 246h1v1h-1zM317 246h1v1h-1zM326 246h1v1h-1zM439 246h1v1h-1zM453 246h2v1h-2zM456 246h1v1h-1zM561 246h1v1h-1zM566 246h1v1h-1zM577 246h1v1h-1zM594 246h1v1h-1zM600 246h1v1h-1zM628 246h1v1h-1zM630 246h2v1h-2zM638 246h1v1h-1zM641 246h1v1h-1zM652 246h1v1h-1zM670 246h1v1h-1zM680 246h1v1h-1zM683 246h2v1h-2zM690 246h1v1h-1zM95 247h1v1h-1zM97 247h1v1h-1zM100 247h1v1h-1zM191 247h1v1h-1zM197 247h1v1h-1zM214 247h1v1h-1zM216 247h2v1h-2zM314 247h1v1h-1zM322 247h1v1h-1zM325 247h1v1h-1zM455 247h1v1h-1zM551 247h1v1h-1zM566 247h1v1h-1zM569 247h1v1h-1zM573 247h1v1h-1zM615 247h1v1h-1zM619 247h2v1h-2zM631 247h1v1h-1zM635 247h1v1h-1zM638 247h1v1h-1zM643 247h1v1h-1zM652 247h1v1h-1zM660 247h1v1h-1zM95 248h1v1h-1zM105 248h1v1h-1zM189 248h1v1h-1zM192 248h2v1h-2zM214 248h1v1h-1zM325 248h1v1h-1zM443 248h2v1h-2zM454 248h1v1h-1zM459 248h1v1h-1zM555 248h1v1h-1zM571 248h1v1h-1zM578 248h2v1h-2zM581 248h1v1h-1zM632 248h1v1h-1zM641 248h2v1h-2zM644 248h1v1h-1zM646 248h1v1h-1zM649 248h1v1h-1zM657 248h2v1h-2zM667 248h2v1h-2zM687 248h1v1h-1zM98 249h1v1h-1zM102 249h1v1h-1zM193 249h1v1h-1zM313 249h1v1h-1zM323 249h1v1h-1zM325 249h2v1h-2zM458 249h1v1h-1zM548 249h1v1h-1zM558 249h1v1h-1zM560 249h1v1h-1zM565 249h1v1h-1zM569 249h1v1h-1zM572 249h1v1h-1zM578 249h2v1h-2zM608 249h1v1h-1zM615 249h2v1h-2zM620 249h2v1h-2zM642 249h1v1h-1zM646 249h1v1h-1zM648 249h2v1h-2zM651 249h1v1h-1zM655 249h2v1h-2zM662 249h1v1h-1zM671 249h1v1h-1zM685 249h1v1h-1zM693 249h1v1h-1zM695 249h1v1h-1zM95 250h1v1h-1zM98 250h2v1h-2zM102 250h1v1h-1zM212 250h1v1h-1zM215 250h1v1h-1zM218 250h1v1h-1zM317 250h1v1h-1zM326 250h2v1h-2zM447 250h2v1h-2zM459 250h1v1h-1zM552 250h1v1h-1zM556 250h1v1h-1zM560 250h3v1h-3zM571 250h2v1h-2zM576 250h1v1h-1zM618 250h1v1h-1zM625 250h1v1h-1zM634 250h1v1h-1zM644 250h1v1h-1zM668 250h1v1h-1zM671 250h1v1h-1zM95 251h1v1h-1zM100 251h1v1h-1zM105 251h1v1h-1zM190 251h2v1h-2zM198 251h1v1h-1zM202 251h1v1h-1zM213 251h1v1h-1zM215 251h1v1h-1zM217 251h2v1h-2zM318 251h1v1h-1zM323 251h1v1h-1zM450 251h1v1h-1zM551 251h1v1h-1zM561 251h1v1h-1zM566 251h1v1h-1zM576 251h1v1h-1zM579 251h1v1h-1zM622 251h1v1h-1zM628 251h1v1h-1zM631 251h1v1h-1zM644 251h1v1h-1zM652 251h2v1h-2zM657 251h1v1h-1zM661 251h1v1h-1zM664 251h1v1h-1zM666 251h1v1h-1zM668 251h1v1h-1zM683 251h1v1h-1zM695 251h1v1h-1zM95 252h3v1h-3zM102 252h2v1h-2zM197 252h1v1h-1zM199 252h2v1h-2zM216 252h2v1h-2zM219 252h1v1h-1zM322 252h1v1h-1zM324 252h2v1h-2zM445 252h2v1h-2zM455 252h1v1h-1zM564 252h1v1h-1zM567 252h2v1h-2zM574 252h1v1h-1zM576 252h1v1h-1zM579 252h1v1h-1zM619 252h1v1h-1zM621 252h1v1h-1zM635 252h1v1h-1zM645 252h1v1h-1zM651 252h1v1h-1zM653 252h1v1h-1zM669 252h1v1h-1zM95 253h1v1h-1zM97 253h1v1h-1zM100 253h2v1h-2zM105 253h1v1h-1zM199 253h1v1h-1zM325 253h2v1h-2zM442 253h2v1h-2zM449 253h1v1h-1zM550 253h1v1h-1zM560 253h1v1h-1zM571 253h1v1h-1zM576 253h1v1h-1zM579 253h1v1h-1zM631 253h1v1h-1zM643 253h1v1h-1zM652 253h1v1h-1zM661 253h2v1h-2zM670 253h1v1h-1zM681 253h1v1h-1zM696 253h1v1h-1zM94 254h1v1h-1zM97 254h2v1h-2zM100 254h1v1h-1zM192 254h1v1h-1zM195 254h1v1h-1zM202 254h1v1h-1zM213 254h1v1h-1zM314 254h2v1h-2zM327 254h1v1h-1zM550 254h1v1h-1zM554 254h1v1h-1zM563 254h1v1h-1zM566 254h1v1h-1zM568 254h1v1h-1zM570 254h1v1h-1zM576 254h2v1h-2zM579 254h1v1h-1zM585 254h1v1h-1zM617 254h1v1h-1zM625 254h1v1h-1zM633 254h1v1h-1zM640 254h2v1h-2zM644 254h1v1h-1zM648 254h1v1h-1zM652 254h1v1h-1zM656 254h1v1h-1zM680 254h1v1h-1zM95 255h2v1h-2zM99 255h1v1h-1zM192 255h1v1h-1zM197 255h1v1h-1zM220 255h1v1h-1zM315 255h1v1h-1zM563 255h2v1h-2zM574 255h1v1h-1zM584 255h1v1h-1zM622 255h1v1h-1zM628 255h1v1h-1zM633 255h2v1h-2zM636 255h1v1h-1zM643 255h2v1h-2zM649 255h1v1h-1zM654 255h1v1h-1zM666 255h1v1h-1zM680 255h1v1h-1zM683 255h1v1h-1zM690 255h1v1h-1zM694 255h1v1h-1zM697 255h1v1h-1zM94 256h1v1h-1zM96 256h1v1h-1zM98 256h1v1h-1zM100 256h1v1h-1zM104 256h1v1h-1zM191 256h1v1h-1zM194 256h1v1h-1zM220 256h1v1h-1zM316 256h1v1h-1zM458 256h2v1h-2zM553 256h1v1h-1zM569 256h1v1h-1zM577 256h1v1h-1zM617 256h1v1h-1zM621 256h1v1h-1zM624 256h1v1h-1zM629 256h1v1h-1zM637 256h1v1h-1zM643 256h1v1h-1zM652 256h1v1h-1zM663 256h2v1h-2zM689 256h1v1h-1zM94 257h1v1h-1zM99 257h1v1h-1zM104 257h1v1h-1zM194 257h1v1h-1zM213 257h1v1h-1zM311 257h1v1h-1zM327 257h2v1h-2zM451 257h1v1h-1zM549 257h1v1h-1zM551 257h1v1h-1zM554 257h1v1h-1zM558 257h1v1h-1zM561 257h1v1h-1zM563 257h1v1h-1zM568 257h1v1h-1zM575 257h1v1h-1zM577 257h1v1h-1zM612 257h1v1h-1zM641 257h1v1h-1zM643 257h1v1h-1zM650 257h1v1h-1zM653 257h1v1h-1zM664 257h1v1h-1zM688 257h1v1h-1zM95 258h1v1h-1zM97 258h1v1h-1zM103 258h1v1h-1zM191 258h1v1h-1zM195 258h1v1h-1zM198 258h1v1h-1zM201 258h1v1h-1zM217 258h1v1h-1zM313 258h1v1h-1zM315 258h1v1h-1zM326 258h1v1h-1zM550 258h1v1h-1zM553 258h1v1h-1zM556 258h1v1h-1zM562 258h2v1h-2zM582 258h1v1h-1zM618 258h1v1h-1zM621 258h2v1h-2zM625 258h1v1h-1zM636 258h1v1h-1zM640 258h1v1h-1zM648 258h1v1h-1zM663 258h2v1h-2zM668 258h1v1h-1zM671 258h1v1h-1zM684 258h1v1h-1zM97 259h1v1h-1zM99 259h1v1h-1zM103 259h1v1h-1zM193 259h1v1h-1zM195 259h1v1h-1zM201 259h1v1h-1zM204 259h1v1h-1zM313 259h1v1h-1zM322 259h1v1h-1zM326 259h1v1h-1zM459 259h2v1h-2zM462 259h1v1h-1zM548 259h1v1h-1zM552 259h1v1h-1zM554 259h1v1h-1zM566 259h1v1h-1zM575 259h1v1h-1zM578 259h1v1h-1zM611 259h1v1h-1zM619 259h1v1h-1zM621 259h1v1h-1zM629 259h1v1h-1zM636 259h1v1h-1zM646 259h1v1h-1zM653 259h1v1h-1zM663 259h1v1h-1zM671 259h1v1h-1zM690 259h4v1h-4zM93 260h1v1h-1zM97 260h1v1h-1zM102 260h1v1h-1zM203 260h1v1h-1zM220 260h1v1h-1zM441 260h1v1h-1zM445 260h1v1h-1zM550 260h1v1h-1zM558 260h1v1h-1zM566 260h1v1h-1zM574 260h1v1h-1zM582 260h1v1h-1zM613 260h1v1h-1zM617 260h1v1h-1zM619 260h1v1h-1zM625 260h1v1h-1zM644 260h1v1h-1zM647 260h1v1h-1zM655 260h1v1h-1zM665 260h1v1h-1zM670 260h1v1h-1zM686 260h1v1h-1zM688 260h1v1h-1zM694 260h1v1h-1zM697 260h1v1h-1zM93 261h1v1h-1zM99 261h1v1h-1zM102 261h1v1h-1zM197 261h2v1h-2zM204 261h1v1h-1zM219 261h1v1h-1zM310 261h1v1h-1zM315 261h1v1h-1zM441 261h1v1h-1zM451 261h1v1h-1zM462 261h1v1h-1zM549 261h1v1h-1zM565 261h1v1h-1zM567 261h1v1h-1zM592 261h1v1h-1zM616 261h1v1h-1zM623 261h2v1h-2zM631 261h1v1h-1zM645 261h2v1h-2zM649 261h1v1h-1zM652 261h1v1h-1zM670 261h1v1h-1zM689 261h1v1h-1zM94 262h1v1h-1zM97 262h1v1h-1zM198 262h1v1h-1zM202 262h1v1h-1zM204 262h1v1h-1zM216 262h1v1h-1zM314 262h1v1h-1zM323 262h3v1h-3zM563 262h1v1h-1zM568 262h1v1h-1zM615 262h1v1h-1zM618 262h1v1h-1zM634 262h1v1h-1zM646 262h1v1h-1zM652 262h2v1h-2zM661 262h1v1h-1zM663 262h1v1h-1zM670 262h1v1h-1zM682 262h1v1h-1zM692 262h1v1h-1zM694 262h1v1h-1zM97 263h1v1h-1zM99 263h1v1h-1zM101 263h2v1h-2zM196 263h1v1h-1zM205 263h1v1h-1zM217 263h1v1h-1zM323 263h1v1h-1zM611 263h1v1h-1zM617 263h1v1h-1zM627 263h1v1h-1zM633 263h1v1h-1zM645 263h1v1h-1zM663 263h1v1h-1zM692 263h1v1h-1zM694 263h1v1h-1zM96 264h1v1h-1zM98 264h1v1h-1zM100 264h1v1h-1zM197 264h1v1h-1zM201 264h1v1h-1zM314 264h1v1h-1zM445 264h3v1h-3zM449 264h1v1h-1zM456 264h1v1h-1zM461 264h1v1h-1zM564 264h1v1h-1zM566 264h2v1h-2zM575 264h1v1h-1zM616 264h1v1h-1zM629 264h2v1h-2zM644 264h2v1h-2zM647 264h1v1h-1zM654 264h1v1h-1zM660 264h1v1h-1zM670 264h1v1h-1zM685 264h1v1h-1zM688 264h1v1h-1zM697 264h1v1h-1zM92 265h1v1h-1zM95 265h2v1h-2zM99 265h1v1h-1zM196 265h1v1h-1zM200 265h1v1h-1zM220 265h1v1h-1zM316 265h1v1h-1zM443 265h1v1h-1zM451 265h1v1h-1zM551 265h1v1h-1zM558 265h2v1h-2zM561 265h1v1h-1zM565 265h1v1h-1zM585 265h1v1h-1zM616 265h1v1h-1zM633 265h1v1h-1zM640 265h1v1h-1zM650 265h1v1h-1zM656 265h1v1h-1zM658 265h1v1h-1zM669 265h1v1h-1zM682 265h1v1h-1zM687 265h2v1h-2zM693 265h1v1h-1zM697 265h1v1h-1zM91 266h1v1h-1zM204 266h1v1h-1zM216 266h2v1h-2zM219 266h1v1h-1zM309 266h1v1h-1zM313 266h1v1h-1zM322 266h1v1h-1zM324 266h2v1h-2zM551 266h1v1h-1zM553 266h1v1h-1zM566 266h1v1h-1zM630 266h1v1h-1zM640 266h1v1h-1zM671 266h1v1h-1zM689 266h1v1h-1zM696 266h1v1h-1zM91 267h1v1h-1zM94 267h2v1h-2zM100 267h1v1h-1zM147 267h1v1h-1zM203 267h1v1h-1zM215 267h1v1h-1zM311 267h1v1h-1zM456 267h1v1h-1zM559 267h1v1h-1zM568 267h1v1h-1zM577 267h1v1h-1zM584 267h1v1h-1zM613 267h1v1h-1zM617 267h2v1h-2zM633 267h1v1h-1zM637 267h1v1h-1zM640 267h1v1h-1zM649 267h1v1h-1zM657 267h1v1h-1zM663 267h1v1h-1zM689 267h1v1h-1zM91 268h1v1h-1zM93 268h3v1h-3zM98 268h1v1h-1zM198 268h2v1h-2zM201 268h1v1h-1zM219 268h1v1h-1zM315 268h1v1h-1zM449 268h1v1h-1zM456 268h1v1h-1zM559 268h1v1h-1zM570 268h1v1h-1zM576 268h1v1h-1zM578 268h1v1h-1zM586 268h1v1h-1zM651 268h1v1h-1zM653 268h1v1h-1zM659 268h1v1h-1zM662 268h1v1h-1zM686 268h2v1h-2zM689 268h1v1h-1zM90 269h1v1h-1zM93 269h2v1h-2zM98 269h1v1h-1zM100 269h1v1h-1zM196 269h1v1h-1zM202 269h1v1h-1zM219 269h1v1h-1zM221 269h1v1h-1zM312 269h1v1h-1zM449 269h1v1h-1zM463 269h1v1h-1zM556 269h1v1h-1zM559 269h1v1h-1zM565 269h1v1h-1zM570 269h1v1h-1zM584 269h1v1h-1zM652 269h1v1h-1zM657 269h1v1h-1zM669 269h1v1h-1zM677 269h1v1h-1zM686 269h1v1h-1zM92 270h2v1h-2zM98 270h2v1h-2zM200 270h1v1h-1zM203 270h1v1h-1zM205 270h1v1h-1zM216 270h1v1h-1zM311 270h1v1h-1zM446 270h1v1h-1zM457 270h1v1h-1zM561 270h1v1h-1zM568 270h1v1h-1zM580 270h1v1h-1zM583 270h1v1h-1zM662 270h1v1h-1zM672 270h1v1h-1zM688 270h1v1h-1zM91 271h1v1h-1zM95 271h2v1h-2zM196 271h1v1h-1zM198 271h1v1h-1zM202 271h1v1h-1zM204 271h1v1h-1zM215 271h1v1h-1zM308 271h2v1h-2zM324 271h2v1h-2zM443 271h2v1h-2zM451 271h1v1h-1zM461 271h2v1h-2zM565 271h1v1h-1zM576 271h1v1h-1zM658 271h1v1h-1zM660 271h1v1h-1zM668 271h1v1h-1zM675 271h1v1h-1zM687 271h1v1h-1zM697 271h2v1h-2zM92 272h1v1h-1zM197 272h2v1h-2zM204 272h1v1h-1zM219 272h2v1h-2zM449 272h1v1h-1zM456 272h2v1h-2zM459 272h1v1h-1zM584 272h1v1h-1zM673 272h1v1h-1zM680 272h1v1h-1zM687 272h1v1h-1zM697 272h1v1h-1zM204 273h1v1h-1zM206 273h1v1h-1zM316 273h1v1h-1zM323 273h1v1h-1zM447 273h1v1h-1zM451 273h1v1h-1zM559 273h1v1h-1zM563 273h1v1h-1zM575 273h1v1h-1zM578 273h1v1h-1zM584 273h1v1h-1zM653 273h1v1h-1zM685 273h1v1h-1zM689 273h2v1h-2zM91 274h1v1h-1zM93 274h1v1h-1zM98 274h1v1h-1zM200 274h1v1h-1zM203 274h2v1h-2zM207 274h1v1h-1zM215 274h1v1h-1zM308 274h1v1h-1zM313 274h1v1h-1zM583 274h1v1h-1zM675 274h1v1h-1zM678 274h1v1h-1zM681 274h1v1h-1zM683 274h1v1h-1zM696 274h1v1h-1zM89 275h1v1h-1zM97 275h1v1h-1zM99 275h1v1h-1zM202 275h3v1h-3zM218 275h1v1h-1zM313 275h1v1h-1zM315 275h1v1h-1zM322 275h1v1h-1zM451 275h2v1h-2zM459 275h1v1h-1zM576 275h1v1h-1zM592 275h1v1h-1zM650 275h1v1h-1zM652 275h1v1h-1zM675 275h1v1h-1zM677 275h1v1h-1zM683 275h1v1h-1zM690 275h1v1h-1zM697 275h1v1h-1zM91 276h1v1h-1zM93 276h1v1h-1zM96 276h1v1h-1zM199 276h1v1h-1zM205 276h2v1h-2zM216 276h1v1h-1zM313 276h1v1h-1zM316 276h1v1h-1zM448 276h1v1h-1zM450 276h1v1h-1zM457 276h1v1h-1zM460 276h1v1h-1zM462 276h1v1h-1zM580 276h1v1h-1zM689 276h1v1h-1zM693 276h2v1h-2zM88 277h1v1h-1zM90 277h1v1h-1zM93 277h2v1h-2zM97 277h1v1h-1zM200 277h1v1h-1zM207 277h1v1h-1zM216 277h1v1h-1zM220 277h1v1h-1zM325 277h1v1h-1zM447 277h1v1h-1zM463 277h1v1h-1zM563 277h1v1h-1zM580 277h1v1h-1zM651 277h2v1h-2zM681 277h1v1h-1zM683 277h1v1h-1zM688 277h1v1h-1zM88 278h4v1h-4zM94 278h2v1h-2zM97 278h1v1h-1zM199 278h1v1h-1zM204 278h2v1h-2zM309 278h1v1h-1zM444 278h1v1h-1zM447 278h1v1h-1zM449 278h1v1h-1zM460 278h2v1h-2zM560 278h1v1h-1zM650 278h1v1h-1zM673 278h3v1h-3zM684 278h3v1h-3zM696 278h2v1h-2zM88 279h2v1h-2zM202 279h1v1h-1zM205 279h1v1h-1zM307 279h3v1h-3zM453 279h1v1h-1zM559 279h1v1h-1zM586 279h1v1h-1zM672 279h1v1h-1zM684 279h1v1h-1zM690 279h1v1h-1zM91 280h3v1h-3zM95 280h1v1h-1zM204 280h1v1h-1zM207 280h1v1h-1zM307 280h1v1h-1zM309 280h1v1h-1zM447 280h2v1h-2zM461 280h1v1h-1zM566 280h1v1h-1zM584 280h2v1h-2zM651 280h1v1h-1zM681 280h1v1h-1zM685 280h1v1h-1zM688 280h2v1h-2zM87 281h4v1h-4zM95 281h1v1h-1zM97 281h1v1h-1zM205 281h1v1h-1zM208 281h1v1h-1zM221 281h1v1h-1zM307 281h3v1h-3zM324 281h1v1h-1zM447 281h1v1h-1zM451 281h1v1h-1zM458 281h2v1h-2zM577 281h2v1h-2zM585 281h1v1h-1zM677 281h1v1h-1zM685 281h1v1h-1zM690 281h1v1h-1zM697 281h1v1h-1zM88 282h1v1h-1zM90 282h1v1h-1zM92 282h3v1h-3zM203 282h1v1h-1zM208 282h1v1h-1zM219 282h1v1h-1zM321 282h1v1h-1zM323 282h1v1h-1zM445 282h1v1h-1zM447 282h1v1h-1zM454 282h1v1h-1zM460 282h1v1h-1zM463 282h1v1h-1zM549 282h1v1h-1zM584 282h1v1h-1zM587 282h1v1h-1zM649 282h1v1h-1zM673 282h1v1h-1zM687 282h1v1h-1zM88 283h2v1h-2zM92 283h1v1h-1zM94 283h2v1h-2zM206 283h2v1h-2zM309 283h1v1h-1zM311 283h1v1h-1zM564 283h1v1h-1zM566 283h2v1h-2zM578 283h1v1h-1zM581 283h1v1h-1zM652 283h1v1h-1zM676 283h1v1h-1zM684 283h1v1h-1zM688 283h1v1h-1zM694 283h1v1h-1zM93 284h1v1h-1zM202 284h1v1h-1zM204 284h1v1h-1zM207 284h1v1h-1zM220 284h1v1h-1zM308 284h2v1h-2zM322 284h1v1h-1zM324 284h1v1h-1zM448 284h1v1h-1zM453 284h1v1h-1zM459 284h1v1h-1zM650 284h1v1h-1zM652 284h1v1h-1zM673 284h1v1h-1zM699 284h1v1h-1zM86 285h1v1h-1zM88 285h2v1h-2zM92 285h1v1h-1zM95 285h1v1h-1zM208 285h1v1h-1zM221 285h1v1h-1zM309 285h1v1h-1zM312 285h1v1h-1zM322 285h2v1h-2zM446 285h1v1h-1zM449 285h1v1h-1zM550 285h1v1h-1zM578 285h1v1h-1zM592 285h1v1h-1zM650 285h1v1h-1zM673 285h1v1h-1zM684 285h1v1h-1zM695 285h1v1h-1zM699 285h1v1h-1zM93 286h1v1h-1zM95 286h1v1h-1zM222 286h1v1h-1zM309 286h2v1h-2zM324 286h1v1h-1zM461 286h1v1h-1zM582 286h1v1h-1zM586 286h1v1h-1zM653 286h1v1h-1zM685 286h1v1h-1zM687 286h1v1h-1zM87 287h1v1h-1zM91 287h1v1h-1zM93 287h2v1h-2zM205 287h1v1h-1zM207 287h1v1h-1zM220 287h1v1h-1zM308 287h1v1h-1zM311 287h2v1h-2zM322 287h1v1h-1zM449 287h1v1h-1zM454 287h1v1h-1zM461 287h1v1h-1zM564 287h1v1h-1zM578 287h1v1h-1zM677 287h1v1h-1zM683 287h1v1h-1zM696 287h2v1h-2zM90 288h2v1h-2zM93 288h1v1h-1zM203 288h2v1h-2zM306 288h1v1h-1zM309 288h2v1h-2zM312 288h1v1h-1zM458 288h1v1h-1zM587 288h1v1h-1zM671 288h1v1h-1zM685 288h2v1h-2zM689 288h1v1h-1zM85 289h1v1h-1zM87 289h1v1h-1zM89 289h1v1h-1zM93 289h1v1h-1zM206 289h1v1h-1zM208 289h1v1h-1zM221 289h1v1h-1zM305 289h1v1h-1zM307 289h2v1h-2zM312 289h1v1h-1zM323 289h1v1h-1zM325 289h1v1h-1zM452 289h1v1h-1zM462 289h1v1h-1zM561 289h1v1h-1zM581 289h1v1h-1zM592 289h1v1h-1zM675 289h1v1h-1zM688 289h1v1h-1zM690 289h2v1h-2zM695 289h1v1h-1zM699 289h1v1h-1zM89 290h2v1h-2zM93 290h1v1h-1zM207 290h1v1h-1zM210 290h2v1h-2zM305 290h1v1h-1zM322 290h1v1h-1zM324 290h1v1h-1zM578 290h1v1h-1zM581 290h1v1h-1zM591 290h1v1h-1zM696 290h1v1h-1zM86 291h1v1h-1zM88 291h1v1h-1zM90 291h1v1h-1zM205 291h1v1h-1zM208 291h1v1h-1zM305 291h1v1h-1zM307 291h1v1h-1zM324 291h1v1h-1zM452 291h1v1h-1zM580 291h3v1h-3zM587 291h1v1h-1zM685 291h1v1h-1zM691 291h1v1h-1zM696 291h2v1h-2zM700 291h1v1h-1zM85 292h2v1h-2zM90 292h1v1h-1zM93 292h1v1h-1zM207 292h1v1h-1zM210 292h2v1h-2zM306 292h1v1h-1zM308 292h1v1h-1zM322 292h3v1h-3zM450 292h1v1h-1zM452 292h1v1h-1zM463 292h1v1h-1zM580 292h1v1h-1zM684 292h1v1h-1zM686 292h1v1h-1zM699 292h1v1h-1zM87 293h1v1h-1zM209 293h3v1h-3zM305 293h2v1h-2zM308 293h1v1h-1zM324 293h1v1h-1zM447 293h1v1h-1zM449 293h1v1h-1zM457 293h1v1h-1zM578 293h1v1h-1zM580 293h1v1h-1zM687 293h1v1h-1zM88 294h1v1h-1zM92 294h1v1h-1zM206 294h1v1h-1zM209 294h1v1h-1zM211 294h2v1h-2zM308 294h2v1h-2zM321 294h2v1h-2zM324 294h1v1h-1zM448 294h1v1h-1zM569 294h1v1h-1zM672 294h1v1h-1zM678 294h1v1h-1zM685 294h1v1h-1zM696 294h1v1h-1zM85 295h1v1h-1zM87 295h1v1h-1zM204 295h2v1h-2zM207 295h2v1h-2zM213 295h1v1h-1zM305 295h1v1h-1zM308 295h1v1h-1zM322 295h1v1h-1zM324 295h1v1h-1zM459 295h1v1h-1zM462 295h1v1h-1zM549 295h1v1h-1zM559 295h1v1h-1zM577 295h2v1h-2zM672 295h1v1h-1zM678 295h1v1h-1zM683 295h1v1h-1zM688 295h1v1h-1zM691 295h1v1h-1zM698 295h1v1h-1zM701 295h1v1h-1zM84 296h3v1h-3zM88 296h4v1h-4zM212 296h1v1h-1zM305 296h2v1h-2zM308 296h1v1h-1zM324 296h1v1h-1zM452 296h1v1h-1zM559 296h1v1h-1zM566 296h1v1h-1zM83 297h2v1h-2zM86 297h1v1h-1zM90 297h2v1h-2zM204 297h1v1h-1zM207 297h1v1h-1zM209 297h1v1h-1zM211 297h1v1h-1zM307 297h1v1h-1zM309 297h1v1h-1zM323 297h1v1h-1zM452 297h2v1h-2zM570 297h1v1h-1zM587 297h1v1h-1zM687 297h2v1h-2zM87 298h1v1h-1zM205 298h1v1h-1zM209 298h1v1h-1zM212 298h2v1h-2zM219 298h1v1h-1zM303 298h1v1h-1zM305 298h2v1h-2zM308 298h1v1h-1zM320 298h3v1h-3zM459 298h1v1h-1zM461 298h1v1h-1zM547 298h1v1h-1zM685 298h1v1h-1zM700 298h1v1h-1zM82 299h3v1h-3zM90 299h1v1h-1zM213 299h1v1h-1zM302 299h2v1h-2zM305 299h1v1h-1zM308 299h2v1h-2zM319 299h1v1h-1zM452 299h1v1h-1zM462 299h1v1h-1zM548 299h1v1h-1zM566 299h1v1h-1zM674 299h1v1h-1zM677 299h1v1h-1zM685 299h1v1h-1zM691 299h1v1h-1zM698 299h1v1h-1zM701 299h1v1h-1zM83 300h1v1h-1zM88 300h2v1h-2zM206 300h2v1h-2zM210 300h1v1h-1zM221 300h1v1h-1zM302 300h1v1h-1zM306 300h1v1h-1zM323 300h1v1h-1zM452 300h2v1h-2zM462 300h2v1h-2zM547 300h1v1h-1zM550 300h1v1h-1zM568 300h1v1h-1zM582 300h1v1h-1zM684 300h1v1h-1zM686 300h1v1h-1zM688 300h1v1h-1zM701 300h2v1h-2zM82 301h2v1h-2zM88 301h1v1h-1zM209 301h1v1h-1zM213 301h1v1h-1zM304 301h3v1h-3zM320 301h1v1h-1zM450 301h1v1h-1zM452 301h1v1h-1zM457 301h1v1h-1zM563 301h1v1h-1zM580 301h1v1h-1zM582 301h1v1h-1zM587 301h1v1h-1zM672 301h1v1h-1zM684 301h1v1h-1zM687 301h3v1h-3zM696 301h1v1h-1zM698 301h1v1h-1zM82 302h2v1h-2zM89 302h1v1h-1zM318 302h2v1h-2zM321 302h1v1h-1zM449 302h1v1h-1zM455 302h1v1h-1zM548 302h1v1h-1zM550 302h1v1h-1zM582 302h1v1h-1zM688 302h3v1h-3zM692 302h1v1h-1zM82 303h1v1h-1zM84 303h1v1h-1zM86 303h1v1h-1zM206 303h1v1h-1zM212 303h1v1h-1zM215 303h1v1h-1zM222 303h1v1h-1zM306 303h3v1h-3zM319 303h1v1h-1zM453 303h1v1h-1zM460 303h1v1h-1zM462 303h1v1h-1zM561 303h1v1h-1zM564 303h1v1h-1zM567 303h2v1h-2zM576 303h1v1h-1zM580 303h1v1h-1zM685 303h2v1h-2zM689 303h1v1h-1zM691 303h2v1h-2zM701 303h3v1h-3zM82 304h1v1h-1zM89 304h1v1h-1zM214 304h1v1h-1zM220 304h1v1h-1zM303 304h1v1h-1zM307 304h1v1h-1zM318 304h1v1h-1zM323 304h1v1h-1zM450 304h1v1h-1zM454 304h1v1h-1zM564 304h1v1h-1zM686 304h2v1h-2zM689 304h3v1h-3zM702 304h1v1h-1zM80 305h2v1h-2zM87 305h1v1h-1zM212 305h2v1h-2zM220 305h1v1h-1zM301 305h1v1h-1zM303 305h3v1h-3zM307 305h1v1h-1zM319 305h3v1h-3zM454 305h1v1h-1zM458 305h1v1h-1zM460 305h1v1h-1zM564 305h1v1h-1zM686 305h1v1h-1zM689 305h2v1h-2zM692 305h1v1h-1zM702 305h1v1h-1zM84 306h2v1h-2zM302 306h4v1h-4zM307 306h1v1h-1zM318 306h3v1h-3zM449 306h1v1h-1zM451 306h1v1h-1zM460 306h2v1h-2zM547 306h2v1h-2zM550 306h3v1h-3zM555 306h1v1h-1zM560 306h1v1h-1zM566 306h1v1h-1zM591 306h1v1h-1zM687 306h1v1h-1zM699 306h1v1h-1zM701 306h1v1h-1zM81 307h1v1h-1zM85 307h3v1h-3zM208 307h2v1h-2zM213 307h1v1h-1zM216 307h1v1h-1zM221 307h1v1h-1zM302 307h1v1h-1zM305 307h1v1h-1zM318 307h1v1h-1zM320 307h1v1h-1zM449 307h1v1h-1zM451 307h1v1h-1zM455 307h1v1h-1zM552 307h1v1h-1zM560 307h1v1h-1zM568 307h1v1h-1zM678 307h1v1h-1zM689 307h1v1h-1zM691 307h1v1h-1zM701 307h1v1h-1zM84 308h4v1h-4zM210 308h1v1h-1zM213 308h1v1h-1zM304 308h1v1h-1zM306 308h1v1h-1zM317 308h1v1h-1zM319 308h1v1h-1zM451 308h4v1h-4zM548 308h1v1h-1zM553 308h1v1h-1zM558 308h1v1h-1zM565 308h1v1h-1zM672 308h1v1h-1zM677 308h1v1h-1zM687 308h1v1h-1zM689 308h1v1h-1zM80 309h2v1h-2zM85 309h2v1h-2zM207 309h1v1h-1zM290 309h1v1h-1zM301 309h1v1h-1zM304 309h1v1h-1zM306 309h1v1h-1zM319 309h1v1h-1zM321 309h1v1h-1zM459 309h1v1h-1zM546 309h1v1h-1zM552 309h1v1h-1zM561 309h1v1h-1zM565 309h1v1h-1zM691 309h2v1h-2zM83 310h1v1h-1zM85 310h1v1h-1zM213 310h2v1h-2zM289 310h1v1h-1zM291 310h1v1h-1zM299 310h1v1h-1zM305 310h1v1h-1zM321 310h2v1h-2zM324 310h1v1h-1zM450 310h1v1h-1zM452 310h1v1h-1zM547 310h2v1h-2zM556 310h2v1h-2zM560 310h1v1h-1zM677 310h1v1h-1zM687 310h1v1h-1zM699 310h1v1h-1zM702 310h1v1h-1zM83 311h1v1h-1zM215 311h3v1h-3zM219 311h1v1h-1zM221 311h1v1h-1zM288 311h2v1h-2zM291 311h2v1h-2zM300 311h1v1h-1zM302 311h1v1h-1zM305 311h1v1h-1zM318 311h1v1h-1zM321 311h1v1h-1zM450 311h1v1h-1zM457 311h1v1h-1zM461 311h1v1h-1zM549 311h1v1h-1zM560 311h2v1h-2zM567 311h1v1h-1zM570 311h1v1h-1zM694 311h1v1h-1zM704 311h1v1h-1zM82 312h2v1h-2zM209 312h1v1h-1zM221 312h1v1h-1zM286 312h1v1h-1zM289 312h2v1h-2zM292 312h1v1h-1zM299 312h1v1h-1zM302 312h1v1h-1zM304 312h1v1h-1zM317 312h2v1h-2zM459 312h1v1h-1zM547 312h1v1h-1zM552 312h1v1h-1zM557 312h1v1h-1zM565 312h1v1h-1zM581 312h1v1h-1zM643 312h1v1h-1zM689 312h5v1h-5zM701 312h1v1h-1zM81 313h1v1h-1zM212 313h4v1h-4zM286 313h1v1h-1zM288 313h6v1h-6zM300 313h1v1h-1zM318 313h1v1h-1zM320 313h2v1h-2zM450 313h1v1h-1zM454 313h1v1h-1zM459 313h1v1h-1zM461 313h2v1h-2zM549 313h3v1h-3zM565 313h2v1h-2zM569 313h1v1h-1zM689 313h2v1h-2zM693 313h1v1h-1zM704 313h1v1h-1zM82 314h1v1h-1zM211 314h1v1h-1zM286 314h3v1h-3zM299 314h2v1h-2zM303 314h2v1h-2zM316 314h5v1h-5zM548 314h1v1h-1zM553 314h1v1h-1zM556 314h1v1h-1zM689 314h2v1h-2zM695 314h1v1h-1zM704 314h1v1h-1zM80 315h1v1h-1zM211 315h2v1h-2zM214 315h1v1h-1zM217 315h1v1h-1zM291 315h1v1h-1zM293 315h1v1h-1zM299 315h1v1h-1zM304 315h1v1h-1zM456 315h2v1h-2zM463 315h1v1h-1zM547 315h1v1h-1zM557 315h1v1h-1zM560 315h2v1h-2zM685 315h1v1h-1zM689 315h5v1h-5zM80 316h1v1h-1zM212 316h2v1h-2zM216 316h1v1h-1zM288 316h2v1h-2zM291 316h2v1h-2zM302 316h3v1h-3zM453 316h1v1h-1zM547 316h1v1h-1zM551 316h2v1h-2zM555 316h3v1h-3zM561 316h1v1h-1zM566 316h1v1h-1zM689 316h1v1h-1zM693 316h3v1h-3zM703 316h3v1h-3zM81 317h2v1h-2zM215 317h1v1h-1zM218 317h2v1h-2zM292 317h1v1h-1zM298 317h1v1h-1zM302 317h1v1h-1zM319 317h2v1h-2zM459 317h1v1h-1zM550 317h1v1h-1zM554 317h1v1h-1zM556 317h1v1h-1zM558 317h1v1h-1zM560 317h2v1h-2zM567 317h3v1h-3zM696 317h1v1h-1zM214 318h1v1h-1zM286 318h5v1h-5zM292 318h2v1h-2zM299 318h1v1h-1zM302 318h1v1h-1zM315 318h1v1h-1zM317 318h2v1h-2zM320 318h1v1h-1zM455 318h1v1h-1zM463 318h1v1h-1zM548 318h1v1h-1zM550 318h2v1h-2zM555 318h1v1h-1zM559 318h1v1h-1zM562 318h1v1h-1zM564 318h2v1h-2zM689 318h1v1h-1zM692 318h2v1h-2zM701 318h2v1h-2zM210 319h1v1h-1zM213 319h1v1h-1zM215 319h1v1h-1zM284 319h2v1h-2zM287 319h1v1h-1zM298 319h1v1h-1zM303 319h1v1h-1zM315 319h1v1h-1zM318 319h1v1h-1zM320 319h1v1h-1zM453 319h1v1h-1zM458 319h1v1h-1zM552 319h1v1h-1zM560 319h1v1h-1zM562 319h1v1h-1zM565 319h1v1h-1zM567 319h1v1h-1zM690 319h2v1h-2zM695 319h1v1h-1zM697 319h1v1h-1zM213 320h1v1h-1zM291 320h1v1h-1zM294 320h1v1h-1zM300 320h1v1h-1zM318 320h1v1h-1zM320 320h1v1h-1zM453 320h1v1h-1zM459 320h1v1h-1zM551 320h3v1h-3zM556 320h1v1h-1zM558 320h1v1h-1zM561 320h1v1h-1zM570 320h1v1h-1zM690 320h2v1h-2zM695 320h2v1h-2zM698 320h1v1h-1zM700 320h1v1h-1zM214 321h2v1h-2zM286 321h1v1h-1zM291 321h1v1h-1zM297 321h3v1h-3zM318 321h2v1h-2zM456 321h1v1h-1zM546 321h1v1h-1zM550 321h1v1h-1zM553 321h1v1h-1zM555 321h1v1h-1zM560 321h1v1h-1zM564 321h1v1h-1zM568 321h1v1h-1zM691 321h4v1h-4zM216 322h2v1h-2zM288 322h4v1h-4zM293 322h1v1h-1zM295 322h3v1h-3zM299 322h2v1h-2zM314 322h2v1h-2zM318 322h2v1h-2zM459 322h1v1h-1zM546 322h1v1h-1zM548 322h1v1h-1zM553 322h1v1h-1zM555 322h1v1h-1zM558 322h2v1h-2zM564 322h1v1h-1zM566 322h1v1h-1zM691 322h1v1h-1zM702 322h2v1h-2zM284 323h1v1h-1zM287 323h1v1h-1zM292 323h1v1h-1zM295 323h5v1h-5zM301 323h1v1h-1zM313 323h2v1h-2zM319 323h1v1h-1zM437 323h1v1h-1zM546 323h2v1h-2zM549 323h3v1h-3zM560 323h1v1h-1zM563 323h1v1h-1zM568 323h1v1h-1zM693 323h6v1h-6zM705 323h1v1h-1zM214 324h3v1h-3zM220 324h1v1h-1zM283 324h1v1h-1zM294 324h2v1h-2zM297 324h1v1h-1zM299 324h2v1h-2zM315 324h3v1h-3zM319 324h1v1h-1zM453 324h1v1h-1zM457 324h1v1h-1zM546 324h1v1h-1zM548 324h1v1h-1zM550 324h1v1h-1zM552 324h1v1h-1zM561 324h1v1h-1zM565 324h1v1h-1zM692 324h2v1h-2zM695 324h1v1h-1zM697 324h3v1h-3zM702 324h1v1h-1zM215 325h1v1h-1zM217 325h1v1h-1zM219 325h1v1h-1zM221 325h1v1h-1zM286 325h3v1h-3zM294 325h1v1h-1zM296 325h1v1h-1zM298 325h1v1h-1zM300 325h1v1h-1zM316 325h1v1h-1zM319 325h1v1h-1zM455 325h1v1h-1zM457 325h2v1h-2zM546 325h1v1h-1zM548 325h1v1h-1zM552 325h2v1h-2zM558 325h2v1h-2zM566 325h1v1h-1zM694 325h6v1h-6zM701 325h1v1h-1zM216 326h1v1h-1zM220 326h1v1h-1zM283 326h1v1h-1zM285 326h2v1h-2zM293 326h1v1h-1zM295 326h1v1h-1zM297 326h4v1h-4zM312 326h4v1h-4zM317 326h2v1h-2zM458 326h2v1h-2zM546 326h2v1h-2zM549 326h1v1h-1zM552 326h1v1h-1zM555 326h2v1h-2zM560 326h3v1h-3zM569 326h1v1h-1zM692 326h2v1h-2zM698 326h1v1h-1zM702 326h1v1h-1zM284 327h3v1h-3zM294 327h2v1h-2zM300 327h1v1h-1zM313 327h4v1h-4zM318 327h1v1h-1zM457 327h1v1h-1zM461 327h1v1h-1zM546 327h2v1h-2zM550 327h2v1h-2zM561 327h1v1h-1zM694 327h1v1h-1zM699 327h1v1h-1zM218 328h1v1h-1zM221 328h1v1h-1zM282 328h1v1h-1zM286 328h2v1h-2zM292 328h1v1h-1zM296 328h1v1h-1zM299 328h2v1h-2zM312 328h2v1h-2zM315 328h1v1h-1zM455 328h1v1h-1zM459 328h1v1h-1zM461 328h1v1h-1zM547 328h1v1h-1zM550 328h1v1h-1zM557 328h1v1h-1zM559 328h1v1h-1zM561 328h1v1h-1zM694 328h1v1h-1zM696 328h1v1h-1zM704 328h2v1h-2zM217 329h3v1h-3zM282 329h2v1h-2zM285 329h1v1h-1zM287 329h1v1h-1zM295 329h1v1h-1zM298 329h1v1h-1zM311 329h1v1h-1zM313 329h1v1h-1zM318 329h1v1h-1zM454 329h1v1h-1zM460 329h2v1h-2zM546 329h2v1h-2zM551 329h1v1h-1zM557 329h1v1h-1zM561 329h1v1h-1zM696 329h2v1h-2zM700 329h3v1h-3zM218 330h3v1h-3zM222 330h1v1h-1zM283 330h4v1h-4zM293 330h1v1h-1zM295 330h1v1h-1zM312 330h2v1h-2zM316 330h1v1h-1zM454 330h2v1h-2zM458 330h1v1h-1zM462 330h1v1h-1zM544 330h2v1h-2zM551 330h2v1h-2zM555 330h3v1h-3zM695 330h3v1h-3zM704 330h1v1h-1zM218 331h1v1h-1zM285 331h1v1h-1zM287 331h1v1h-1zM295 331h1v1h-1zM311 331h2v1h-2zM314 331h3v1h-3zM458 331h1v1h-1zM463 331h1v1h-1zM544 331h1v1h-1zM547 331h3v1h-3zM552 331h1v1h-1zM693 331h4v1h-4zM699 331h3v1h-3zM282 332h1v1h-1zM285 332h1v1h-1zM296 332h1v1h-1zM309 332h2v1h-2zM312 332h6v1h-6zM456 332h1v1h-1zM544 332h3v1h-3zM552 332h1v1h-1zM556 332h1v1h-1zM558 332h3v1h-3zM694 332h4v1h-4zM699 332h1v1h-1zM704 332h1v1h-1zM222 333h1v1h-1zM280 333h3v1h-3zM287 333h1v1h-1zM293 333h1v1h-1zM295 333h1v1h-1zM312 333h1v1h-1zM314 333h2v1h-2zM461 333h1v1h-1zM543 333h2v1h-2zM546 333h1v1h-1zM554 333h1v1h-1zM560 333h1v1h-1zM695 333h2v1h-2zM698 333h1v1h-1zM700 333h4v1h-4zM281 334h1v1h-1zM284 334h1v1h-1zM296 334h1v1h-1zM311 334h1v1h-1zM315 334h1v1h-1zM461 334h2v1h-2zM556 334h1v1h-1zM703 334h1v1h-1zM705 334h1v1h-1zM222 335h1v1h-1zM280 335h1v1h-1zM283 335h1v1h-1zM286 335h1v1h-1zM295 335h1v1h-1zM310 335h2v1h-2zM456 335h1v1h-1zM461 335h1v1h-1zM463 335h1v1h-1zM544 335h2v1h-2zM547 335h1v1h-1zM549 335h1v1h-1zM553 335h1v1h-1zM696 335h1v1h-1zM699 335h1v1h-1zM701 335h1v1h-1zM220 336h2v1h-2zM280 336h4v1h-4zM285 336h1v1h-1zM308 336h1v1h-1zM311 336h1v1h-1zM313 336h2v1h-2zM455 336h1v1h-1zM459 336h1v1h-1zM543 336h2v1h-2zM547 336h3v1h-3zM695 336h1v1h-1zM698 336h3v1h-3zM702 336h1v1h-1zM294 337h3v1h-3zM310 337h1v1h-1zM312 337h3v1h-3zM458 337h1v1h-1zM543 337h4v1h-4zM550 337h1v1h-1zM697 337h1v1h-1zM700 337h1v1h-1zM702 337h1v1h-1zM281 338h2v1h-2zM307 338h4v1h-4zM456 338h1v1h-1zM459 338h3v1h-3zM541 338h3v1h-3zM545 338h1v1h-1zM547 338h1v1h-1zM549 338h2v1h-2zM699 338h1v1h-1zM702 338h1v1h-1zM283 339h2v1h-2zM294 339h1v1h-1zM296 339h1v1h-1zM306 339h2v1h-2zM310 339h2v1h-2zM313 339h1v1h-1zM456 339h1v1h-1zM460 339h1v1h-1zM462 339h1v1h-1zM540 339h1v1h-1zM542 339h3v1h-3zM549 339h1v1h-1zM698 339h2v1h-2zM701 339h1v1h-1zM279 340h2v1h-2zM284 340h2v1h-2zM305 340h4v1h-4zM311 340h1v1h-1zM459 340h2v1h-2zM463 340h1v1h-1zM541 340h2v1h-2zM544 340h1v1h-1zM547 340h1v1h-1zM549 340h2v1h-2zM699 340h1v1h-1zM701 340h1v1h-1zM284 341h1v1h-1zM295 341h2v1h-2zM305 341h2v1h-2zM308 341h1v1h-1zM312 341h1v1h-1zM461 341h1v1h-1zM538 341h2v1h-2zM543 341h2v1h-2zM548 341h4v1h-4zM699 341h1v1h-1zM701 341h4v1h-4zM279 342h3v1h-3zM283 342h2v1h-2zM295 342h3v1h-3zM303 342h1v1h-1zM305 342h2v1h-2zM308 342h1v1h-1zM311 342h1v1h-1zM539 342h1v1h-1zM541 342h1v1h-1zM543 342h2v1h-2zM548 342h2v1h-2zM698 342h1v1h-1zM700 342h2v1h-2zM705 342h1v1h-1zM278 343h1v1h-1zM281 343h2v1h-2zM296 343h2v1h-2zM304 343h2v1h-2zM309 343h1v1h-1zM459 343h1v1h-1zM537 343h2v1h-2zM540 343h2v1h-2zM549 343h1v1h-1zM551 343h1v1h-1zM702 343h1v1h-1zM705 343h1v1h-1zM278 344h3v1h-3zM283 344h1v1h-1zM287 344h2v1h-2zM302 344h2v1h-2zM305 344h1v1h-1zM307 344h1v1h-1zM310 344h1v1h-1zM460 344h1v1h-1zM536 344h3v1h-3zM540 344h3v1h-3zM546 344h2v1h-2zM549 344h1v1h-1zM551 344h1v1h-1zM699 344h2v1h-2zM702 344h3v1h-3zM222 345h1v1h-1zM278 345h1v1h-1zM280 345h1v1h-1zM286 345h2v1h-2zM289 345h5v1h-5zM302 345h4v1h-4zM307 345h1v1h-1zM309 345h1v1h-1zM535 345h1v1h-1zM537 345h4v1h-4zM546 345h5v1h-5zM703 345h1v1h-1zM705 345h1v1h-1zM277 346h1v1h-1zM279 346h1v1h-1zM282 346h1v1h-1zM286 346h2v1h-2zM290 346h1v1h-1zM292 346h2v1h-2zM299 346h3v1h-3zM304 346h1v1h-1zM306 346h1v1h-1zM460 346h1v1h-1zM463 346h1v1h-1zM536 346h2v1h-2zM539 346h2v1h-2zM546 346h5v1h-5zM701 346h1v1h-1zM703 346h1v1h-1zM282 347h2v1h-2zM286 347h1v1h-1zM288 347h4v1h-4zM293 347h1v1h-1zM300 347h2v1h-2zM304 347h4v1h-4zM463 347h1v1h-1zM534 347h1v1h-1zM536 347h3v1h-3zM547 347h1v1h-1zM702 347h1v1h-1zM279 348h2v1h-2zM282 348h2v1h-2zM288 348h2v1h-2zM291 348h3v1h-3zM299 348h2v1h-2zM303 348h1v1h-1zM305 348h1v1h-1zM307 348h1v1h-1zM460 348h1v1h-1zM536 348h1v1h-1zM538 348h1v1h-1zM547 348h2v1h-2zM563 348h1v1h-1zM700 348h3v1h-3zM704 348h1v1h-1zM706 348h1v1h-1zM181 349h1v1h-1zM280 349h5v1h-5zM286 349h2v1h-2zM290 349h1v1h-1zM300 349h1v1h-1zM302 349h2v1h-2zM306 349h1v1h-1zM461 349h1v1h-1zM532 349h3v1h-3zM537 349h1v1h-1zM544 349h1v1h-1zM546 349h2v1h-2zM701 349h1v1h-1zM281 350h1v1h-1zM283 350h1v1h-1zM287 350h1v1h-1zM289 350h1v1h-1zM291 350h4v1h-4zM296 350h2v1h-2zM300 350h1v1h-1zM302 350h2v1h-2zM532 350h1v1h-1zM536 350h1v1h-1zM543 350h1v1h-1zM545 350h1v1h-1zM547 350h1v1h-1zM701 350h2v1h-2zM705 350h1v1h-1zM276 351h3v1h-3zM280 351h4v1h-4zM285 351h3v1h-3zM290 351h5v1h-5zM298 351h1v1h-1zM300 351h1v1h-1zM302 351h3v1h-3zM531 351h2v1h-2zM534 351h1v1h-1zM536 351h1v1h-1zM542 351h2v1h-2zM546 351h2v1h-2zM703 351h2v1h-2zM113 352h1v1h-1zM276 352h2v1h-2zM279 352h2v1h-2zM284 352h1v1h-1zM287 352h1v1h-1zM290 352h1v1h-1zM292 352h2v1h-2zM296 352h1v1h-1zM298 352h4v1h-4zM531 352h3v1h-3zM542 352h1v1h-1zM545 352h1v1h-1zM702 352h1v1h-1zM278 353h1v1h-1zM280 353h3v1h-3zM284 353h4v1h-4zM293 353h2v1h-2zM296 353h1v1h-1zM299 353h3v1h-3zM531 353h1v1h-1zM543 353h1v1h-1zM545 353h1v1h-1zM702 353h3v1h-3zM277 354h1v1h-1zM280 354h1v1h-1zM284 354h2v1h-2zM292 354h5v1h-5zM298 354h2v1h-2zM301 354h1v1h-1zM530 354h5v1h-5zM541 354h1v1h-1zM543 354h2v1h-2zM546 354h1v1h-1zM704 354h1v1h-1zM275 355h1v1h-1zM277 355h4v1h-4zM282 355h1v1h-1zM284 355h2v1h-2zM290 355h2v1h-2zM295 355h2v1h-2zM299 355h1v1h-1zM529 355h1v1h-1zM532 355h2v1h-2zM539 355h6v1h-6zM704 355h1v1h-1zM277 356h8v1h-8zM291 356h1v1h-1zM294 356h6v1h-6zM528 356h1v1h-1zM531 356h3v1h-3zM537 356h1v1h-1zM539 356h2v1h-2zM544 356h1v1h-1zM703 356h3v1h-3zM276 357h1v1h-1zM278 357h4v1h-4zM283 357h2v1h-2zM293 357h2v1h-2zM298 357h1v1h-1zM527 357h6v1h-6zM537 357h1v1h-1zM539 357h4v1h-4zM274 358h7v1h-7zM282 358h1v1h-1zM292 358h1v1h-1zM295 358h3v1h-3zM527 358h5v1h-5zM538 358h2v1h-2zM542 358h1v1h-1zM705 358h1v1h-1zM276 359h4v1h-4zM281 359h1v1h-1zM294 359h5v1h-5zM526 359h3v1h-3zM530 359h2v1h-2zM535 359h4v1h-4zM540 359h2v1h-2zM274 360h3v1h-3zM280 360h1v1h-1zM292 360h4v1h-4zM525 360h1v1h-1zM527 360h4v1h-4zM534 360h3v1h-3zM538 360h1v1h-1zM540 360h1v1h-1zM705 360h1v1h-1zM274 361h4v1h-4zM280 361h2v1h-2zM292 361h5v1h-5zM524 361h1v1h-1zM527 361h3v1h-3zM534 361h1v1h-1zM536 361h1v1h-1zM539 361h1v1h-1zM274 362h7v1h-7zM294 362h1v1h-1zM297 362h1v1h-1zM492 362h1v1h-1zM523 362h1v1h-1zM526 362h2v1h-2zM529 362h1v1h-1zM532 362h3v1h-3zM538 362h1v1h-1zM273 363h5v1h-5zM523 363h2v1h-2zM526 363h2v1h-2zM530 363h6v1h-6zM537 363h1v1h-1zM273 364h3v1h-3zM277 364h1v1h-1zM522 364h1v1h-1zM525 364h3v1h-3zM531 364h4v1h-4zM536 364h1v1h-1zM273 365h1v1h-1zM275 365h3v1h-3zM279 365h1v1h-1zM521 365h1v1h-1zM523 365h5v1h-5zM529 365h3v1h-3zM533 365h1v1h-1zM535 365h1v1h-1zM272 366h1v1h-1zM275 366h3v1h-3zM490 366h1v1h-1zM520 366h3v1h-3zM525 366h2v1h-2zM528 366h1v1h-1zM530 366h1v1h-1zM534 366h1v1h-1zM703 366h2v1h-2zM272 367h1v1h-1zM274 367h1v1h-1zM276 367h2v1h-2zM492 367h1v1h-1zM519 367h3v1h-3zM523 367h3v1h-3zM527 367h2v1h-2zM530 367h3v1h-3zM248 368h2v1h-2zM272 368h4v1h-4zM277 368h1v1h-1zM518 368h1v1h-1zM522 368h1v1h-1zM526 368h4v1h-4zM531 368h2v1h-2zM248 369h3v1h-3zM271 369h2v1h-2zM274 369h2v1h-2zM490 369h1v1h-1zM492 369h2v1h-2zM517 369h2v1h-2zM520 369h2v1h-2zM524 369h2v1h-2zM527 369h3v1h-3zM249 370h1v1h-1zM272 370h1v1h-1zM274 370h4v1h-4zM493 370h1v1h-1zM516 370h3v1h-3zM520 370h1v1h-1zM522 370h1v1h-1zM524 370h5v1h-5zM248 371h3v1h-3zM272 371h2v1h-2zM276 371h1v1h-1zM490 371h1v1h-1zM515 371h2v1h-2zM519 371h9v1h-9zM248 372h3v1h-3zM270 372h1v1h-1zM272 372h1v1h-1zM489 372h3v1h-3zM514 372h1v1h-1zM518 372h2v1h-2zM523 372h1v1h-1zM525 372h4v1h-4zM248 373h4v1h-4zM253 373h1v1h-1zM271 373h1v1h-1zM273 373h2v1h-2zM492 373h2v1h-2zM501 373h1v1h-1zM513 373h4v1h-4zM518 373h4v1h-4zM523 373h3v1h-3zM527 373h1v1h-1zM249 374h7v1h-7zM259 374h2v1h-2zM269 374h3v1h-3zM273 374h3v1h-3zM491 374h2v1h-2zM494 374h1v1h-1zM501 374h1v1h-1zM512 374h8v1h-8zM522 374h1v1h-1zM524 374h1v1h-1zM214 375h1v1h-1zM249 375h15v1h-15zM270 375h1v1h-1zM272 375h2v1h-2zM473 375h1v1h-1zM491 375h5v1h-5zM501 375h1v1h-1zM503 375h1v1h-1zM510 375h6v1h-6zM517 375h4v1h-4zM522 375h3v1h-3zM690 375h1v1h-1zM249 376h15v1h-15zM269 376h3v1h-3zM491 376h6v1h-6zM501 376h2v1h-2zM511 376h4v1h-4zM516 376h1v1h-1zM520 376h3v1h-3zM250 377h9v1h-9zM260 377h3v1h-3zM269 377h1v1h-1zM491 377h2v1h-2zM494 377h5v1h-5zM509 377h1v1h-1zM511 377h4v1h-4zM516 377h3v1h-3zM521 377h2v1h-2zM250 378h11v1h-11zM269 378h1v1h-1zM271 378h2v1h-2zM491 378h1v1h-1zM494 378h6v1h-6zM509 378h2v1h-2zM512 378h1v1h-1zM515 378h3v1h-3zM519 378h1v1h-1zM229 379h1v1h-1zM248 379h1v1h-1zM254 379h4v1h-4zM260 379h1v1h-1zM270 379h2v1h-2zM491 379h1v1h-1zM494 379h5v1h-5zM511 379h2v1h-2zM516 379h2v1h-2zM270 380h2v1h-2zM509 380h3v1h-3zM517 380h2v1h-2z"/>
<path fill="#000" d="M507 473h1v1h-1zM510 473h1v1h-1zM513 473h1v1h-1zM490 474h1v1h-1zM493 474h1v1h-1zM496 474h1v1h-1zM508 474h1v1h-1zM510 474h1v1h-1zM512 474h1v1h-1zM491 475h1v1h-1zM493 475h1v1h-1zM495 475h1v1h-1zM509 475h3v1h-3zM492 476h3v1h-3zM507 476h7v1h-7zM490 477h7v1h-7zM509 477h3v1h-3zM245 478h1v1h-1zM248 478h1v1h-1zM251 478h1v1h-1zM492 478h3v1h-3zM508 478h1v1h-1zM510 478h1v1h-1zM512 478h1v1h-1zM246 479h1v1h-1zM248 479h1v1h-1zM250 479h1v1h-1zM491 479h1v1h-1zM493 479h1v1h-1zM495 479h1v1h-1zM507 479h1v1h-1zM510 479h1v1h-1zM513 479h1v1h-1zM247 480h3v1h-3zM490 480h1v1h-1zM493 480h1v1h-1zM496 480h1v1h-1zM245 481h7v1h-7zM247 482h3v1h-3zM246 483h1v1h-1zM248 483h1v1h-1zM250 483h1v1h-1zM245 484h1v1h-1zM248 484h1v1h-1zM251 484h1v1h-1zM245 554h21v1h-21zM487 554h19v1h-19zM507 554h9v1h-9zM575 554h1v1h-1zM578 554h1v1h-1zM581 554h1v1h-1zM245 555h21v1h-21zM488 555h17v1h-17zM508 555h7v1h-7zM576 555h1v1h-1zM578 555h1v1h-1zM580 555h1v1h-1zM246 556h9v1h-9zM256 556h9v1h-9zM489 556h15v1h-15zM509 556h5v1h-5zM577 556h3v1h-3zM245 557h21v1h-21zM487 557h19v1h-19zM507 557h9v1h-9zM575 557h7v1h-7zM245 558h21v1h-21zM489 558h15v1h-15zM509 558h5v1h-5zM577 558h3v1h-3zM246 559h9v1h-9zM256 559h9v1h-9zM488 559h17v1h-17zM508 559h7v1h-7zM576 559h1v1h-1zM578 559h1v1h-1zM580 559h1v1h-1zM245 560h21v1h-21zM487 560h19v1h-19zM507 560h9v1h-9zM575 560h1v1h-1zM578 560h1v1h-1zM581 560h1v1h-1zM245 561h21v1h-21zM212 633h1v1h-1zM215 633h1v1h-1zM218 633h1v1h-1zM387 633h1v1h-1zM390 633h1v1h-1zM393 633h1v1h-1zM687 633h1v1h-1zM690 633h1v1h-1zM693 633h1v1h-1zM81 634h146v1h-146zM245 634h20v1h-20zM267 634h201v1h-201zM486 634h17v1h-17zM507 634h202v1h-202zM81 635h146v1h-146zM245 635h20v1h-20zM267 635h201v1h-201zM486 635h17v1h-17zM507 635h202v1h-202zM81 636h145v1h-145zM246 636h18v1h-18zM268 636h199v1h-199zM487 636h15v1h-15zM508 636h200v1h-200zM81 637h146v1h-146zM245 637h20v1h-20zM267 637h201v1h-201zM486 637h17v1h-17zM507 637h202v1h-202zM81 638h146v1h-146zM245 638h20v1h-20zM267 638h201v1h-201zM486 638h17v1h-17zM507 638h202v1h-202zM81 639h145v1h-145zM246 639h18v1h-18zM268 639h199v1h-199zM487 639h15v1h-15zM508 639h200v1h-200zM81 640h146v1h-146zM245 640h20v1h-20zM267 640h201v1h-201zM486 640h17v1h-17zM507 640h202v1h-202zM81 641h146v1h-146zM245 641h20v1h-20zM267 641h201v1h-201zM486 641h17v1h-17zM507 641h202v1h-202zM110 642h1v1h-1zM113 642h1v1h-1zM116 642h1v1h-1zM144 642h1v1h-1zM147 642h1v1h-1zM150 642h1v1h-1zM178 642h1v1h-1zM181 642h1v1h-1zM184 642h1v1h-1zM212 642h1v1h-1zM215 642h1v1h-1zM218 642h1v1h-1zM246 642h1v1h-1zM249 642h1v1h-1zM252 642h1v1h-1zM353 642h1v1h-1zM356 642h1v1h-1zM359 642h1v1h-1zM387 642h1v1h-1zM390 642h1v1h-1zM393 642h1v1h-1zM435 642h1v1h-1zM438 642h1v1h-1zM441 642h1v1h-1zM561 642h1v1h-1zM564 642h1v1h-1zM567 642h1v1h-1zM641 642h1v1h-1zM644 642h1v1h-1zM647 642h1v1h-1zM687 642h1v1h-1zM690 642h1v1h-1zM693 642h1v1h-1zM697 642h1v1h-1zM700 642h2v1h-2zM703 642h2v1h-2zM707 642h1v1h-1z"/>
</g>
<text x="235.33" y="48" font-size="17.8" textLength="46.11" lengthAdjust="spacingAndGlyphs">RBSP</text>
<text x="283.12" y="48" font-size="17.8" textLength="13.44" lengthAdjust="spacingAndGlyphs">-</text>
<text x="297.13" y="48" font-size="17.8" textLength="10.87" lengthAdjust="spacingAndGlyphs">B</text>
<text x="316.99" y="48" font-size="17.8" textLength="54.82" lengthAdjust="spacingAndGlyphs">SHORT</text>
<text x="381.37" y="48" font-size="17.8" textLength="38.77" lengthAdjust="spacingAndGlyphs">ANT.</text>
<text x="426.97" y="48" font-size="17.8" textLength="72.45" lengthAdjust="spacingAndGlyphs">SHADOW</text>
<text x="507.18" y="48" font-size="17.8" textLength="46.81" lengthAdjust="spacingAndGlyphs">TIMES</text>
<text x="156.76" y="67" font-size="17.8" textLength="46.11" lengthAdjust="spacingAndGlyphs">2018</text>
<text x="209.12" y="67" font-size="17.8" textLength="35.36" lengthAdjust="spacingAndGlyphs">322</text>
<text x="251.34" y="67" font-size="17.8" textLength="73.14" lengthAdjust="spacingAndGlyphs">(11/18)</text>
<text x="332.32" y="67" font-size="17.8" textLength="50.57" lengthAdjust="spacingAndGlyphs">12:30</text>
<text x="392.31" y="67" font-size="17.8" textLength="16.94" lengthAdjust="spacingAndGlyphs">to</text>
<text x="417.76" y="67" font-size="17.8" textLength="45.11" lengthAdjust="spacingAndGlyphs">2018</text>
<text x="470.73" y="67" font-size="17.8" textLength="33.54" lengthAdjust="spacingAndGlyphs">323</text>
<text x="512.12" y="67" font-size="17.8" textLength="71.55" lengthAdjust="spacingAndGlyphs">(11/19)</text>
<text x="594.12" y="67" font-size="17.8" textLength="47.96" lengthAdjust="spacingAndGlyphs">12:30</text>
<text x="49.4" y="91" font-size="13.8" textLength="26.08" lengthAdjust="spacingAndGlyphs">400</text>
<text x="49.4" y="162" font-size="13.8" textLength="26.08" lengthAdjust="spacingAndGlyphs">300</text>
<text x="49.4" y="238" font-size="13.8" textLength="26.08" lengthAdjust="spacingAndGlyphs">200</text>
<text x="49.32" y="314" font-size="13.8" textLength="26.13" lengthAdjust="spacingAndGlyphs">100</text>
<text x="67.4" y="384" font-size="13.8" textLength="8.0" lengthAdjust="spacingAndGlyphs">0</text>
<text x="58.7" y="427" font-size="13.8" textLength="16.81" lengthAdjust="spacingAndGlyphs">20</text>
<text x="58.69" y="498" font-size="13.8" textLength="17.85" lengthAdjust="spacingAndGlyphs">15</text>
<text x="58.76" y="574" font-size="13.8" textLength="16.81" lengthAdjust="spacingAndGlyphs">10</text>
<text x="66.92" y="650" font-size="13.8" textLength="9.8" lengthAdjust="spacingAndGlyphs">5</text>
<text x="67.4" y="720" font-size="13.8" textLength="8.0" lengthAdjust="spacingAndGlyphs">0</text>
<text x="60.38" y="407" font-size="13.8" textLength="40.05" lengthAdjust="spacingAndGlyphs">00:00</text>
<text x="140.38" y="407" font-size="13.8" textLength="40.05" lengthAdjust="spacingAndGlyphs">03:00</text>
<text x="220.38" y="407" font-size="13.8" textLength="40.05" lengthAdjust="spacingAndGlyphs">06:00</text>
<text x="300.38" y="407" font-size="13.8" textLength="40.05" lengthAdjust="spacingAndGlyphs">09:00</text>
<text x="380.33" y="407" font-size="13.8" textLength="40.11" lengthAdjust="spacingAndGlyphs">12:00</text>
<text x="460.33" y="407" font-size="13.8" textLength="40.11" lengthAdjust="spacingAndGlyphs">15:00</text>
<text x="540.33" y="407" font-size="13.8" textLength="40.11" lengthAdjust="spacingAndGlyphs">18:00</text>
<text x="620.38" y="407" font-size="13.8" textLength="40.05" lengthAdjust="spacingAndGlyphs">21:00</text>
<text x="700.38" y="407" font-size="13.8" textLength="40.05" lengthAdjust="spacingAndGlyphs">00:00</text>
<text x="123.78" y="743" font-size="13.8" textLength="40.62" lengthAdjust="spacingAndGlyphs">02:24</text>
<text x="251.76" y="743" font-size="13.8" textLength="41.69" lengthAdjust="spacingAndGlyphs">07:12</text>
<text x="379.75" y="743" font-size="13.8" textLength="41.75" lengthAdjust="spacingAndGlyphs">12:00</text>
<text x="507.76" y="743" font-size="13.8" textLength="41.69" lengthAdjust="spacingAndGlyphs">16:48</text>
<text x="635.76" y="743" font-size="13.8" textLength="41.69" lengthAdjust="spacingAndGlyphs">21:35</text>
<text x="38.6" y="384.66" font-size="15.8" textLength="39.7" lengthAdjust="spacingAndGlyphs" transform="rotate(-90 38.6 384.66)">Probe</text>
<text x="38.6" y="338.56" font-size="15.8" textLength="10.83" lengthAdjust="spacingAndGlyphs" transform="rotate(-90 38.6 338.56)">5</text>
<text x="38.6" y="321.63" font-size="15.8" textLength="41.25" lengthAdjust="spacingAndGlyphs" transform="rotate(-90 38.6 321.63)">DELTA</text>
<text x="38.6" y="274.08" font-size="15.8" textLength="27.37" lengthAdjust="spacingAndGlyphs" transform="rotate(-90 38.6 274.08)">AMP</text>
<text x="38.6" y="239.03" font-size="15.8" textLength="51.04" lengthAdjust="spacingAndGlyphs" transform="rotate(-90 38.6 239.03)">DURING</text>
<text x="38.6" y="183.03" font-size="15.8" textLength="58.05" lengthAdjust="spacingAndGlyphs" transform="rotate(-90 38.6 183.03)">SHADOW</text>
<text x="38.6" y="117.46" font-size="15.8" textLength="36.95" lengthAdjust="spacingAndGlyphs" transform="rotate(-90 38.6 117.46)">(ADC)</text>
<text x="47.4" y="676.21" font-size="15.8" textLength="31.03" lengthAdjust="spacingAndGlyphs" transform="rotate(-90 47.4 676.21)">TIME</text>
<text x="47.4" y="638.65" font-size="15.8" textLength="61.49" lengthAdjust="spacingAndGlyphs" transform="rotate(-90 47.4 638.65)">BETWEEN</text>
<text x="47.4" y="570.23" font-size="15.8" textLength="65.65" lengthAdjust="spacingAndGlyphs" transform="rotate(-90 47.4 570.23)">SHADOWS</text>
<text x="47.4" y="497.66" font-size="15.8" textLength="38.12" lengthAdjust="spacingAndGlyphs" transform="rotate(-90 47.4 497.66)">(SEC)</text>
</svg></body></html>
